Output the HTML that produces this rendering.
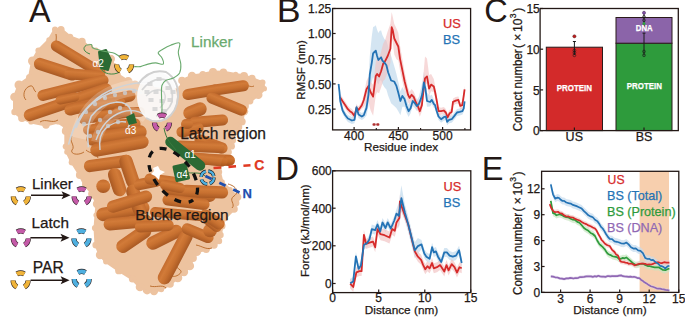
<!DOCTYPE html>
<html><head><meta charset="utf-8"><style>
html,body{margin:0;padding:0;background:#fff;width:685px;height:317px;overflow:hidden}
svg{display:block;font-family:"Liberation Sans", sans-serif}
.t{stroke:currentColor}
</style></head><body>
<svg width="685" height="317" viewBox="0 0 685 317">
<rect width="685" height="317" fill="#fff"/>
<polygon points="55.0,29.5 61.0,29.5 70.0,37.0 82.0,41.5 89.4,47.5 96.0,50.0 104.0,53.0 110.8,59.0 114.0,66.0 117.8,74.7 128.2,81.6 135.0,84.0 150.0,88.0 165.0,90.0 176.0,92.0 181.0,88.0 182.0,80.5 192.0,76.0 202.8,74.4 213.0,72.0 223.4,72.3 235.7,74.4 244.0,76.0 252.0,78.5 262.4,82.6 264.4,88.7 258.3,94.9 250.0,101.0 245.0,106.0 243.9,111.3 241.8,121.6 238.0,127.0 235.7,131.8 232.0,140.0 231.6,146.2 227.5,152.0 222.0,160.0 219.5,172.0 222.0,182.0 230.0,190.0 237.0,197.0 236.0,203.0 234.0,209.0 225.0,218.0 222.0,226.0 220.4,235.0 219.0,241.0 214.0,245.0 206.2,249.3 196.8,251.7 193.0,258.0 189.7,265.9 184.0,272.0 177.8,277.7 170.0,284.0 161.3,289.5 154.0,291.0 147.1,290.0 140.0,287.0 132.5,279.0 119.0,270.4 106.0,261.5 100.0,255.0 96.0,245.0 95.0,228.0 96.0,215.0 97.0,204.0 92.6,193.9 84.7,184.4 80.0,175.0 72.0,162.3 67.0,152.0 65.8,146.6 65.8,131.0 67.0,128.0 58.0,122.0 46.0,125.0 31.0,122.0 22.0,118.0 14.5,112.0 14.5,97.0 19.0,85.0 29.5,77.4 32.5,61.0 38.5,50.5 49.0,40.0" fill="#edc3a0" stroke="#edc3a0" stroke-width="3" stroke-linejoin="round"/>
<circle cx="55.0" cy="29.5" r="3.0" fill="#edc3a0"/>
<circle cx="61.0" cy="29.5" r="3.6" fill="#edc3a0"/>
<circle cx="70.0" cy="37.0" r="3.2" fill="#edc3a0"/>
<circle cx="82.0" cy="41.5" r="3.7" fill="#edc3a0"/>
<circle cx="89.4" cy="47.5" r="3.8" fill="#edc3a0"/>
<circle cx="96.0" cy="50.0" r="2.6" fill="#edc3a0"/>
<circle cx="104.0" cy="53.0" r="2.5" fill="#edc3a0"/>
<circle cx="110.8" cy="59.0" r="4.2" fill="#edc3a0"/>
<circle cx="114.0" cy="66.0" r="3.0" fill="#edc3a0"/>
<circle cx="117.8" cy="74.7" r="3.0" fill="#edc3a0"/>
<circle cx="128.2" cy="81.6" r="4.5" fill="#edc3a0"/>
<circle cx="135.0" cy="84.0" r="3.4" fill="#edc3a0"/>
<circle cx="150.0" cy="88.0" r="4.2" fill="#edc3a0"/>
<circle cx="165.0" cy="90.0" r="3.5" fill="#edc3a0"/>
<circle cx="176.0" cy="92.0" r="3.8" fill="#edc3a0"/>
<circle cx="181.0" cy="88.0" r="2.8" fill="#edc3a0"/>
<circle cx="182.0" cy="80.5" r="3.8" fill="#edc3a0"/>
<circle cx="192.0" cy="76.0" r="4.2" fill="#edc3a0"/>
<circle cx="202.8" cy="74.4" r="3.5" fill="#edc3a0"/>
<circle cx="213.0" cy="72.0" r="4.0" fill="#edc3a0"/>
<circle cx="223.4" cy="72.3" r="3.8" fill="#edc3a0"/>
<circle cx="235.7" cy="74.4" r="2.6" fill="#edc3a0"/>
<circle cx="244.0" cy="76.0" r="4.0" fill="#edc3a0"/>
<circle cx="252.0" cy="78.5" r="3.7" fill="#edc3a0"/>
<circle cx="262.4" cy="82.6" r="3.1" fill="#edc3a0"/>
<circle cx="264.4" cy="88.7" r="2.6" fill="#edc3a0"/>
<circle cx="258.3" cy="94.9" r="4.2" fill="#edc3a0"/>
<circle cx="250.0" cy="101.0" r="3.4" fill="#edc3a0"/>
<circle cx="245.0" cy="106.0" r="3.9" fill="#edc3a0"/>
<circle cx="243.9" cy="111.3" r="4.3" fill="#edc3a0"/>
<circle cx="241.8" cy="121.6" r="3.9" fill="#edc3a0"/>
<circle cx="238.0" cy="127.0" r="4.3" fill="#edc3a0"/>
<circle cx="235.7" cy="131.8" r="3.3" fill="#edc3a0"/>
<circle cx="232.0" cy="140.0" r="4.1" fill="#edc3a0"/>
<circle cx="231.6" cy="146.2" r="3.4" fill="#edc3a0"/>
<circle cx="227.5" cy="152.0" r="4.4" fill="#edc3a0"/>
<circle cx="222.0" cy="160.0" r="4.3" fill="#edc3a0"/>
<circle cx="219.5" cy="172.0" r="2.7" fill="#edc3a0"/>
<circle cx="222.0" cy="182.0" r="2.8" fill="#edc3a0"/>
<circle cx="230.0" cy="190.0" r="2.9" fill="#edc3a0"/>
<circle cx="237.0" cy="197.0" r="4.4" fill="#edc3a0"/>
<circle cx="236.0" cy="203.0" r="3.4" fill="#edc3a0"/>
<circle cx="234.0" cy="209.0" r="3.8" fill="#edc3a0"/>
<circle cx="225.0" cy="218.0" r="3.1" fill="#edc3a0"/>
<circle cx="222.0" cy="226.0" r="3.5" fill="#edc3a0"/>
<circle cx="220.4" cy="235.0" r="3.3" fill="#edc3a0"/>
<circle cx="219.0" cy="241.0" r="3.2" fill="#edc3a0"/>
<circle cx="214.0" cy="245.0" r="3.7" fill="#edc3a0"/>
<circle cx="206.2" cy="249.3" r="3.7" fill="#edc3a0"/>
<circle cx="196.8" cy="251.7" r="4.3" fill="#edc3a0"/>
<circle cx="193.0" cy="258.0" r="3.9" fill="#edc3a0"/>
<circle cx="189.7" cy="265.9" r="4.4" fill="#edc3a0"/>
<circle cx="184.0" cy="272.0" r="4.2" fill="#edc3a0"/>
<circle cx="177.8" cy="277.7" r="4.5" fill="#edc3a0"/>
<circle cx="170.0" cy="284.0" r="3.8" fill="#edc3a0"/>
<circle cx="161.3" cy="289.5" r="2.8" fill="#edc3a0"/>
<circle cx="154.0" cy="291.0" r="4.2" fill="#edc3a0"/>
<circle cx="147.1" cy="290.0" r="4.4" fill="#edc3a0"/>
<circle cx="140.0" cy="287.0" r="4.3" fill="#edc3a0"/>
<circle cx="132.5" cy="279.0" r="3.6" fill="#edc3a0"/>
<circle cx="119.0" cy="270.4" r="3.9" fill="#edc3a0"/>
<circle cx="106.0" cy="261.5" r="2.9" fill="#edc3a0"/>
<circle cx="100.0" cy="255.0" r="4.2" fill="#edc3a0"/>
<circle cx="96.0" cy="245.0" r="3.6" fill="#edc3a0"/>
<circle cx="95.0" cy="228.0" r="3.1" fill="#edc3a0"/>
<circle cx="96.0" cy="215.0" r="2.6" fill="#edc3a0"/>
<circle cx="97.0" cy="204.0" r="4.2" fill="#edc3a0"/>
<circle cx="92.6" cy="193.9" r="4.5" fill="#edc3a0"/>
<circle cx="84.7" cy="184.4" r="2.7" fill="#edc3a0"/>
<circle cx="80.0" cy="175.0" r="4.1" fill="#edc3a0"/>
<circle cx="72.0" cy="162.3" r="3.3" fill="#edc3a0"/>
<circle cx="67.0" cy="152.0" r="2.8" fill="#edc3a0"/>
<circle cx="65.8" cy="146.6" r="3.1" fill="#edc3a0"/>
<circle cx="65.8" cy="131.0" r="4.0" fill="#edc3a0"/>
<circle cx="67.0" cy="128.0" r="4.2" fill="#edc3a0"/>
<circle cx="58.0" cy="122.0" r="2.6" fill="#edc3a0"/>
<circle cx="46.0" cy="125.0" r="3.7" fill="#edc3a0"/>
<circle cx="31.0" cy="122.0" r="2.6" fill="#edc3a0"/>
<circle cx="22.0" cy="118.0" r="3.9" fill="#edc3a0"/>
<circle cx="14.5" cy="112.0" r="3.2" fill="#edc3a0"/>
<circle cx="14.5" cy="97.0" r="4.3" fill="#edc3a0"/>
<circle cx="19.0" cy="85.0" r="4.5" fill="#edc3a0"/>
<circle cx="29.5" cy="77.4" r="3.5" fill="#edc3a0"/>
<circle cx="32.5" cy="61.0" r="4.5" fill="#edc3a0"/>
<circle cx="38.5" cy="50.5" r="3.1" fill="#edc3a0"/>
<circle cx="49.0" cy="40.0" r="2.7" fill="#edc3a0"/>
<path d="M56,34 C57,38 55,42 57,46" fill="none" stroke="#b4621f" stroke-width="0.9"/>
<path d="M26,100 C22,96 24,88 30,86 C34,85 33,90 36,92" fill="none" stroke="#b4621f" stroke-width="0.9"/>
<path d="M72,136 C68,140 76,146 72,150 C70,154 78,156 84,152" fill="none" stroke="#b4621f" stroke-width="0.9"/>
<path d="M170,256 C168,262 176,266 180,270 C184,272 176,278 172,276" fill="none" stroke="#b4621f" stroke-width="0.9"/>
<path d="M228,184 C236,186 240,192 234,196 C228,200 236,204 232,208" fill="none" stroke="#b4621f" stroke-width="0.9"/>
<path d="M150,286 C156,288 162,284 166,288" fill="none" stroke="#b4621f" stroke-width="0.9"/>
<path d="M86,150 C90,154 96,152 98,158" fill="none" stroke="#b4621f" stroke-width="0.9"/>
<path d="M196,245 C202,246 206,250 212,248" fill="none" stroke="#b4621f" stroke-width="0.9"/>
<path d="M244,86 C248,84 250,88 254,86" fill="none" stroke="#b4621f" stroke-width="0.9"/>
<path d="M40,122 C46,118 52,124 58,120" fill="none" stroke="#b4621f" stroke-width="0.9"/>
<linearGradient id="cg1" gradientUnits="userSpaceOnUse" x1="81.1" y1="54.5" x2="75.3" y2="64.0"><stop offset="0" stop-color="#c06526"/><stop offset="0.3" stop-color="#d07632"/><stop offset="0.6" stop-color="#c46a28"/><stop offset="1" stop-color="#a3511b"/></linearGradient>
<line x1="56.4" y1="46" x2="100" y2="72.5" stroke="url(#cg1)" stroke-width="11.200000000000001" stroke-linecap="round"/>
<linearGradient id="cg2" gradientUnits="userSpaceOnUse" x1="57.9" y1="63.3" x2="54.1" y2="75.1"><stop offset="0" stop-color="#c06526"/><stop offset="0.3" stop-color="#d07632"/><stop offset="0.6" stop-color="#c46a28"/><stop offset="1" stop-color="#a3511b"/></linearGradient>
<line x1="40" y1="64" x2="72" y2="74.4" stroke="url(#cg2)" stroke-width="12.32" stroke-linecap="round"/>
<linearGradient id="cg3" gradientUnits="userSpaceOnUse" x1="84.9" y1="69.4" x2="84.1" y2="80.6"><stop offset="0" stop-color="#c06526"/><stop offset="0.3" stop-color="#d07632"/><stop offset="0.6" stop-color="#c46a28"/><stop offset="1" stop-color="#a3511b"/></linearGradient>
<line x1="70" y1="74" x2="99" y2="76" stroke="url(#cg3)" stroke-width="11.200000000000001" stroke-linecap="round"/>
<linearGradient id="cg4" gradientUnits="userSpaceOnUse" x1="71.6" y1="82.5" x2="74.4" y2="93.3"><stop offset="0" stop-color="#c06526"/><stop offset="0.3" stop-color="#d07632"/><stop offset="0.6" stop-color="#c46a28"/><stop offset="1" stop-color="#a3511b"/></linearGradient>
<line x1="43" y1="95.4" x2="103" y2="80.4" stroke="url(#cg4)" stroke-width="11.200000000000001" stroke-linecap="round"/>
<linearGradient id="cg5" gradientUnits="userSpaceOnUse" x1="66.0" y1="96.4" x2="70.0" y2="108.0"><stop offset="0" stop-color="#c06526"/><stop offset="0.3" stop-color="#d07632"/><stop offset="0.6" stop-color="#c46a28"/><stop offset="1" stop-color="#a3511b"/></linearGradient>
<line x1="30" y1="115" x2="106" y2="89.4" stroke="url(#cg5)" stroke-width="12.32" stroke-linecap="round"/>
<linearGradient id="cg6" gradientUnits="userSpaceOnUse" x1="83.6" y1="100.6" x2="86.4" y2="111.4"><stop offset="0" stop-color="#c06526"/><stop offset="0.3" stop-color="#d07632"/><stop offset="0.6" stop-color="#c46a28"/><stop offset="1" stop-color="#a3511b"/></linearGradient>
<line x1="70" y1="110" x2="100" y2="102" stroke="url(#cg6)" stroke-width="11.200000000000001" stroke-linecap="round"/>
<linearGradient id="cg7" gradientUnits="userSpaceOnUse" x1="66.6" y1="94.1" x2="68.4" y2="102.9"><stop offset="0" stop-color="#c06526"/><stop offset="0.3" stop-color="#d07632"/><stop offset="0.6" stop-color="#c46a28"/><stop offset="1" stop-color="#a3511b"/></linearGradient>
<line x1="60" y1="100" x2="75" y2="97" stroke="url(#cg7)" stroke-width="8.96" stroke-linecap="round"/>
<linearGradient id="cg8" gradientUnits="userSpaceOnUse" x1="103.6" y1="108.9" x2="105.4" y2="121.1"><stop offset="0" stop-color="#c06526"/><stop offset="0.3" stop-color="#d07632"/><stop offset="0.6" stop-color="#c46a28"/><stop offset="1" stop-color="#a3511b"/></linearGradient>
<line x1="84" y1="118" x2="125" y2="112" stroke="url(#cg8)" stroke-width="12.32" stroke-linecap="round"/>
<linearGradient id="cg9" gradientUnits="userSpaceOnUse" x1="117.2" y1="119.4" x2="117.8" y2="130.6"><stop offset="0" stop-color="#c06526"/><stop offset="0.3" stop-color="#d07632"/><stop offset="0.6" stop-color="#c46a28"/><stop offset="1" stop-color="#a3511b"/></linearGradient>
<line x1="100" y1="126" x2="135" y2="124" stroke="url(#cg9)" stroke-width="11.200000000000001" stroke-linecap="round"/>
<linearGradient id="cg10" gradientUnits="userSpaceOnUse" x1="118.9" y1="92.5" x2="121.1" y2="103.5"><stop offset="0" stop-color="#c06526"/><stop offset="0.3" stop-color="#d07632"/><stop offset="0.6" stop-color="#c46a28"/><stop offset="1" stop-color="#a3511b"/></linearGradient>
<line x1="110" y1="100" x2="130" y2="96" stroke="url(#cg10)" stroke-width="11.200000000000001" stroke-linecap="round"/>
<linearGradient id="cg11" gradientUnits="userSpaceOnUse" x1="98.3" y1="99.9" x2="99.7" y2="111.1"><stop offset="0" stop-color="#c06526"/><stop offset="0.3" stop-color="#d07632"/><stop offset="0.6" stop-color="#c46a28"/><stop offset="1" stop-color="#a3511b"/></linearGradient>
<line x1="78" y1="108" x2="120" y2="103" stroke="url(#cg11)" stroke-width="11.200000000000001" stroke-linecap="round"/>
<linearGradient id="cg12" gradientUnits="userSpaceOnUse" x1="129.0" y1="107.0" x2="129.0" y2="117.0"><stop offset="0" stop-color="#c06526"/><stop offset="0.3" stop-color="#d07632"/><stop offset="0.6" stop-color="#c46a28"/><stop offset="1" stop-color="#a3511b"/></linearGradient>
<line x1="118" y1="112" x2="140" y2="112" stroke="url(#cg12)" stroke-width="10.080000000000002" stroke-linecap="round"/>
<linearGradient id="cg13" gradientUnits="userSpaceOnUse" x1="93.2" y1="124.0" x2="94.8" y2="134.0"><stop offset="0" stop-color="#c06526"/><stop offset="0.3" stop-color="#d07632"/><stop offset="0.6" stop-color="#c46a28"/><stop offset="1" stop-color="#a3511b"/></linearGradient>
<line x1="88" y1="130" x2="100" y2="128" stroke="url(#cg13)" stroke-width="10.080000000000002" stroke-linecap="round"/>
<linearGradient id="cg14" gradientUnits="userSpaceOnUse" x1="115.5" y1="128.9" x2="117.5" y2="142.1"><stop offset="0" stop-color="#c06526"/><stop offset="0.3" stop-color="#d07632"/><stop offset="0.6" stop-color="#c46a28"/><stop offset="1" stop-color="#a3511b"/></linearGradient>
<line x1="93" y1="139" x2="140" y2="132" stroke="url(#cg14)" stroke-width="13.440000000000001" stroke-linecap="round"/>
<linearGradient id="cg15" gradientUnits="userSpaceOnUse" x1="118.3" y1="139.4" x2="120.7" y2="152.6"><stop offset="0" stop-color="#c06526"/><stop offset="0.3" stop-color="#d07632"/><stop offset="0.6" stop-color="#c46a28"/><stop offset="1" stop-color="#a3511b"/></linearGradient>
<line x1="97" y1="150" x2="142" y2="142" stroke="url(#cg15)" stroke-width="13.440000000000001" stroke-linecap="round"/>
<linearGradient id="cg16" gradientUnits="userSpaceOnUse" x1="107.2" y1="157.4" x2="108.8" y2="169.6"><stop offset="0" stop-color="#c06526"/><stop offset="0.3" stop-color="#d07632"/><stop offset="0.6" stop-color="#c46a28"/><stop offset="1" stop-color="#a3511b"/></linearGradient>
<line x1="90" y1="166" x2="126" y2="161" stroke="url(#cg16)" stroke-width="12.32" stroke-linecap="round"/>
<linearGradient id="cg17" gradientUnits="userSpaceOnUse" x1="135.8" y1="169.2" x2="123.0" y2="173.5"><stop offset="0" stop-color="#c06526"/><stop offset="0.3" stop-color="#d07632"/><stop offset="0.6" stop-color="#c46a28"/><stop offset="1" stop-color="#a3511b"/></linearGradient>
<line x1="126" y1="161.4" x2="132.8" y2="181.3" stroke="url(#cg17)" stroke-width="13.440000000000001" stroke-linecap="round"/>
<linearGradient id="cg18" gradientUnits="userSpaceOnUse" x1="123.5" y1="180.0" x2="110.7" y2="184.3"><stop offset="0" stop-color="#c06526"/><stop offset="0.3" stop-color="#d07632"/><stop offset="0.6" stop-color="#c46a28"/><stop offset="1" stop-color="#a3511b"/></linearGradient>
<line x1="114.6" y1="174.7" x2="119.6" y2="189.6" stroke="url(#cg18)" stroke-width="13.440000000000001" stroke-linecap="round"/>
<linearGradient id="cg19" gradientUnits="userSpaceOnUse" x1="103.2" y1="179.6" x2="103.2" y2="193.0"><stop offset="0" stop-color="#c06526"/><stop offset="0.3" stop-color="#d07632"/><stop offset="0.6" stop-color="#c46a28"/><stop offset="1" stop-color="#a3511b"/></linearGradient>
<line x1="103" y1="186.3" x2="103.5" y2="186.3" stroke="url(#cg19)" stroke-width="13.440000000000001" stroke-linecap="round"/>
<linearGradient id="cg20" gradientUnits="userSpaceOnUse" x1="121.8" y1="204.5" x2="124.0" y2="217.7"><stop offset="0" stop-color="#c06526"/><stop offset="0.3" stop-color="#d07632"/><stop offset="0.6" stop-color="#c46a28"/><stop offset="1" stop-color="#a3511b"/></linearGradient>
<line x1="103" y1="214.4" x2="142.8" y2="207.8" stroke="url(#cg20)" stroke-width="13.440000000000001" stroke-linecap="round"/>
<linearGradient id="cg21" gradientUnits="userSpaceOnUse" x1="142.5" y1="198.0" x2="129.8" y2="202.6"><stop offset="0" stop-color="#c06526"/><stop offset="0.3" stop-color="#d07632"/><stop offset="0.6" stop-color="#c46a28"/><stop offset="1" stop-color="#a3511b"/></linearGradient>
<line x1="132.8" y1="191.2" x2="139.5" y2="209.4" stroke="url(#cg21)" stroke-width="13.440000000000001" stroke-linecap="round"/>
<linearGradient id="cg22" gradientUnits="userSpaceOnUse" x1="127.3" y1="216.5" x2="128.4" y2="228.8"><stop offset="0" stop-color="#c06526"/><stop offset="0.3" stop-color="#d07632"/><stop offset="0.6" stop-color="#c46a28"/><stop offset="1" stop-color="#a3511b"/></linearGradient>
<line x1="109.7" y1="224.3" x2="146" y2="221" stroke="url(#cg22)" stroke-width="12.32" stroke-linecap="round"/>
<linearGradient id="cg23" gradientUnits="userSpaceOnUse" x1="146.7" y1="177.5" x2="148.8" y2="188.4"><stop offset="0" stop-color="#c06526"/><stop offset="0.3" stop-color="#d07632"/><stop offset="0.6" stop-color="#c46a28"/><stop offset="1" stop-color="#a3511b"/></linearGradient>
<line x1="139.5" y1="184.6" x2="156" y2="181.3" stroke="url(#cg23)" stroke-width="11.200000000000001" stroke-linecap="round"/>
<linearGradient id="cg24" gradientUnits="userSpaceOnUse" x1="127.7" y1="195.7" x2="131.3" y2="207.5"><stop offset="0" stop-color="#c06526"/><stop offset="0.3" stop-color="#d07632"/><stop offset="0.6" stop-color="#c46a28"/><stop offset="1" stop-color="#a3511b"/></linearGradient>
<line x1="113" y1="206.6" x2="146" y2="196.6" stroke="url(#cg24)" stroke-width="12.32" stroke-linecap="round"/>
<linearGradient id="cg25" gradientUnits="userSpaceOnUse" x1="130.0" y1="233.3" x2="137.6" y2="244.4"><stop offset="0" stop-color="#c06526"/><stop offset="0.3" stop-color="#d07632"/><stop offset="0.6" stop-color="#c46a28"/><stop offset="1" stop-color="#a3511b"/></linearGradient>
<line x1="123" y1="246.3" x2="144.6" y2="231.4" stroke="url(#cg25)" stroke-width="13.440000000000001" stroke-linecap="round"/>
<linearGradient id="cg26" gradientUnits="userSpaceOnUse" x1="161.5" y1="231.2" x2="167.5" y2="243.2"><stop offset="0" stop-color="#c06526"/><stop offset="0.3" stop-color="#d07632"/><stop offset="0.6" stop-color="#c46a28"/><stop offset="1" stop-color="#a3511b"/></linearGradient>
<line x1="153" y1="243" x2="176" y2="231.4" stroke="url(#cg26)" stroke-width="13.440000000000001" stroke-linecap="round"/>
<linearGradient id="cg27" gradientUnits="userSpaceOnUse" x1="169.3" y1="253.9" x2="181.2" y2="260.2"><stop offset="0" stop-color="#c06526"/><stop offset="0.3" stop-color="#d07632"/><stop offset="0.6" stop-color="#c46a28"/><stop offset="1" stop-color="#a3511b"/></linearGradient>
<line x1="164.5" y1="277.7" x2="186" y2="236.4" stroke="url(#cg27)" stroke-width="13.440000000000001" stroke-linecap="round"/>
<linearGradient id="cg28" gradientUnits="userSpaceOnUse" x1="154.0" y1="220.6" x2="154.6" y2="231.7"><stop offset="0" stop-color="#c06526"/><stop offset="0.3" stop-color="#d07632"/><stop offset="0.6" stop-color="#c46a28"/><stop offset="1" stop-color="#a3511b"/></linearGradient>
<line x1="140.4" y1="227" x2="168.2" y2="225.3" stroke="url(#cg28)" stroke-width="11.200000000000001" stroke-linecap="round"/>
<linearGradient id="cg29" gradientUnits="userSpaceOnUse" x1="199.8" y1="228.0" x2="195.5" y2="238.3"><stop offset="0" stop-color="#c06526"/><stop offset="0.3" stop-color="#d07632"/><stop offset="0.6" stop-color="#c46a28"/><stop offset="1" stop-color="#a3511b"/></linearGradient>
<line x1="187.3" y1="228.8" x2="208" y2="237.5" stroke="url(#cg29)" stroke-width="11.200000000000001" stroke-linecap="round"/>
<linearGradient id="cg30" gradientUnits="userSpaceOnUse" x1="210.1" y1="223.8" x2="210.1" y2="237.2"><stop offset="0" stop-color="#c06526"/><stop offset="0.3" stop-color="#d07632"/><stop offset="0.6" stop-color="#c46a28"/><stop offset="1" stop-color="#a3511b"/></linearGradient>
<line x1="209.8" y1="230.5" x2="210.3" y2="230.5" stroke="url(#cg30)" stroke-width="13.440000000000001" stroke-linecap="round"/>
<linearGradient id="cg31" gradientUnits="userSpaceOnUse" x1="215.5" y1="219.6" x2="209.2" y2="227.4"><stop offset="0" stop-color="#c06526"/><stop offset="0.3" stop-color="#d07632"/><stop offset="0.6" stop-color="#c46a28"/><stop offset="1" stop-color="#a3511b"/></linearGradient>
<line x1="208" y1="220" x2="216.7" y2="227" stroke="url(#cg31)" stroke-width="10.080000000000002" stroke-linecap="round"/>
<linearGradient id="cg32" gradientUnits="userSpaceOnUse" x1="190.0" y1="186.3" x2="188.0" y2="198.4"><stop offset="0" stop-color="#c06526"/><stop offset="0.3" stop-color="#d07632"/><stop offset="0.6" stop-color="#c46a28"/><stop offset="1" stop-color="#a3511b"/></linearGradient>
<line x1="168.2" y1="188.9" x2="209.8" y2="195.8" stroke="url(#cg32)" stroke-width="12.32" stroke-linecap="round"/>
<linearGradient id="cg33" gradientUnits="userSpaceOnUse" x1="200.6" y1="86.7" x2="202.4" y2="97.8"><stop offset="0" stop-color="#c06526"/><stop offset="0.3" stop-color="#d07632"/><stop offset="0.6" stop-color="#c46a28"/><stop offset="1" stop-color="#a3511b"/></linearGradient>
<line x1="188" y1="94.5" x2="215" y2="90" stroke="url(#cg33)" stroke-width="11.200000000000001" stroke-linecap="round"/>
<linearGradient id="cg34" gradientUnits="userSpaceOnUse" x1="228.3" y1="82.4" x2="230.0" y2="93.4"><stop offset="0" stop-color="#c06526"/><stop offset="0.3" stop-color="#d07632"/><stop offset="0.6" stop-color="#c46a28"/><stop offset="1" stop-color="#a3511b"/></linearGradient>
<line x1="215" y1="90" x2="243.3" y2="85.8" stroke="url(#cg34)" stroke-width="11.200000000000001" stroke-linecap="round"/>
<linearGradient id="cg35" gradientUnits="userSpaceOnUse" x1="228.9" y1="98.9" x2="224.6" y2="109.2"><stop offset="0" stop-color="#c06526"/><stop offset="0.3" stop-color="#d07632"/><stop offset="0.6" stop-color="#c46a28"/><stop offset="1" stop-color="#a3511b"/></linearGradient>
<line x1="212" y1="98" x2="241.5" y2="110.1" stroke="url(#cg35)" stroke-width="11.200000000000001" stroke-linecap="round"/>
<linearGradient id="cg36" gradientUnits="userSpaceOnUse" x1="192.5" y1="104.8" x2="197.5" y2="117.2"><stop offset="0" stop-color="#c06526"/><stop offset="0.3" stop-color="#d07632"/><stop offset="0.6" stop-color="#c46a28"/><stop offset="1" stop-color="#a3511b"/></linearGradient>
<line x1="190" y1="113" x2="200" y2="109" stroke="url(#cg36)" stroke-width="13.440000000000001" stroke-linecap="round"/>
<linearGradient id="cg37" gradientUnits="userSpaceOnUse" x1="208.1" y1="115.6" x2="209.1" y2="126.7"><stop offset="0" stop-color="#c06526"/><stop offset="0.3" stop-color="#d07632"/><stop offset="0.6" stop-color="#c46a28"/><stop offset="1" stop-color="#a3511b"/></linearGradient>
<line x1="194.7" y1="122.3" x2="222.5" y2="120" stroke="url(#cg37)" stroke-width="11.200000000000001" stroke-linecap="round"/>
<linearGradient id="cg38" gradientUnits="userSpaceOnUse" x1="212.9" y1="138.7" x2="209.1" y2="149.3"><stop offset="0" stop-color="#c06526"/><stop offset="0.3" stop-color="#d07632"/><stop offset="0.6" stop-color="#c46a28"/><stop offset="1" stop-color="#a3511b"/></linearGradient>
<line x1="200" y1="140" x2="222" y2="148" stroke="url(#cg38)" stroke-width="11.200000000000001" stroke-linecap="round"/>
<linearGradient id="cg39" gradientUnits="userSpaceOnUse" x1="215.7" y1="141.7" x2="213.0" y2="151.4"><stop offset="0" stop-color="#c06526"/><stop offset="0.3" stop-color="#d07632"/><stop offset="0.6" stop-color="#c46a28"/><stop offset="1" stop-color="#a3511b"/></linearGradient>
<line x1="208" y1="144.8" x2="220.7" y2="148.3" stroke="url(#cg39)" stroke-width="10.080000000000002" stroke-linecap="round"/>
<linearGradient id="cg40" gradientUnits="userSpaceOnUse" x1="212.3" y1="154.0" x2="211.8" y2="165.1"><stop offset="0" stop-color="#c06526"/><stop offset="0.3" stop-color="#d07632"/><stop offset="0.6" stop-color="#c46a28"/><stop offset="1" stop-color="#a3511b"/></linearGradient>
<line x1="194.7" y1="158.7" x2="229.4" y2="160.4" stroke="url(#cg40)" stroke-width="11.200000000000001" stroke-linecap="round"/>
<linearGradient id="cg41" gradientUnits="userSpaceOnUse" x1="188.6" y1="124.6" x2="191.4" y2="135.4"><stop offset="0" stop-color="#c06526"/><stop offset="0.3" stop-color="#d07632"/><stop offset="0.6" stop-color="#c46a28"/><stop offset="1" stop-color="#a3511b"/></linearGradient>
<line x1="182" y1="132" x2="198" y2="128" stroke="url(#cg41)" stroke-width="11.200000000000001" stroke-linecap="round"/>
<linearGradient id="cg42" gradientUnits="userSpaceOnUse" x1="187.0" y1="119.0" x2="187.0" y2="129.0"><stop offset="0" stop-color="#c06526"/><stop offset="0.3" stop-color="#d07632"/><stop offset="0.6" stop-color="#c46a28"/><stop offset="1" stop-color="#a3511b"/></linearGradient>
<line x1="186" y1="124" x2="188" y2="124" stroke="url(#cg42)" stroke-width="10.080000000000002" stroke-linecap="round"/>
<linearGradient id="cg43" gradientUnits="userSpaceOnUse" x1="199.7" y1="141.2" x2="199.3" y2="152.3"><stop offset="0" stop-color="#c06526"/><stop offset="0.3" stop-color="#d07632"/><stop offset="0.6" stop-color="#c46a28"/><stop offset="1" stop-color="#a3511b"/></linearGradient>
<line x1="180" y1="146" x2="219" y2="147.5" stroke="url(#cg43)" stroke-width="11.200000000000001" stroke-linecap="round"/>
<linearGradient id="cg44" gradientUnits="userSpaceOnUse" x1="209.1" y1="153.9" x2="207.9" y2="165.1"><stop offset="0" stop-color="#c06526"/><stop offset="0.3" stop-color="#d07632"/><stop offset="0.6" stop-color="#c46a28"/><stop offset="1" stop-color="#a3511b"/></linearGradient>
<line x1="195" y1="158" x2="222" y2="161" stroke="url(#cg44)" stroke-width="11.200000000000001" stroke-linecap="round"/>
<linearGradient id="cg45" gradientUnits="userSpaceOnUse" x1="162.0" y1="174.9" x2="160.5" y2="186.1"><stop offset="0" stop-color="#c06526"/><stop offset="0.3" stop-color="#d07632"/><stop offset="0.6" stop-color="#c46a28"/><stop offset="1" stop-color="#a3511b"/></linearGradient>
<line x1="150" y1="179" x2="172.5" y2="182" stroke="url(#cg45)" stroke-width="11.200000000000001" stroke-linecap="round"/>
<linearGradient id="cg46" gradientUnits="userSpaceOnUse" x1="204.2" y1="185.5" x2="203.8" y2="197.9"><stop offset="0" stop-color="#c06526"/><stop offset="0.3" stop-color="#d07632"/><stop offset="0.6" stop-color="#c46a28"/><stop offset="1" stop-color="#a3511b"/></linearGradient>
<line x1="186" y1="191" x2="222" y2="192.4" stroke="url(#cg46)" stroke-width="12.32" stroke-linecap="round"/>
<linearGradient id="cg47" gradientUnits="userSpaceOnUse" x1="186.7" y1="196.6" x2="185.3" y2="207.8"><stop offset="0" stop-color="#c06526"/><stop offset="0.3" stop-color="#d07632"/><stop offset="0.6" stop-color="#c46a28"/><stop offset="1" stop-color="#a3511b"/></linearGradient>
<line x1="168" y1="200" x2="204" y2="204.4" stroke="url(#cg47)" stroke-width="11.200000000000001" stroke-linecap="round"/>
<linearGradient id="cg48" gradientUnits="userSpaceOnUse" x1="215.3" y1="214.8" x2="209.1" y2="224.2"><stop offset="0" stop-color="#c06526"/><stop offset="0.3" stop-color="#d07632"/><stop offset="0.6" stop-color="#c46a28"/><stop offset="1" stop-color="#a3511b"/></linearGradient>
<line x1="205.4" y1="215" x2="219" y2="224" stroke="url(#cg48)" stroke-width="11.200000000000001" stroke-linecap="round"/>
<linearGradient id="cg49" gradientUnits="userSpaceOnUse" x1="173.5" y1="181.6" x2="171.5" y2="191.4"><stop offset="0" stop-color="#c06526"/><stop offset="0.3" stop-color="#d07632"/><stop offset="0.6" stop-color="#c46a28"/><stop offset="1" stop-color="#a3511b"/></linearGradient>
<line x1="165" y1="185" x2="180" y2="188" stroke="url(#cg49)" stroke-width="10.080000000000002" stroke-linecap="round"/>
<linearGradient id="cg50" gradientUnits="userSpaceOnUse" x1="177.9" y1="209.0" x2="177.1" y2="219.0"><stop offset="0" stop-color="#c06526"/><stop offset="0.3" stop-color="#d07632"/><stop offset="0.6" stop-color="#c46a28"/><stop offset="1" stop-color="#a3511b"/></linearGradient>
<line x1="155" y1="212" x2="200" y2="216" stroke="url(#cg50)" stroke-width="10.080000000000002" stroke-linecap="round"/>
<polygon points="55.0,29.5 61.0,29.5 70.0,37.0 82.0,41.5 89.4,47.5 96.0,50.0 104.0,53.0 110.8,59.0 114.0,66.0 117.8,74.7 128.2,81.6 135.0,84.0 150.0,88.0 165.0,90.0 176.0,92.0 181.0,88.0 182.0,80.5 192.0,76.0 202.8,74.4 213.0,72.0 223.4,72.3 235.7,74.4 244.0,76.0 252.0,78.5 262.4,82.6 264.4,88.7 258.3,94.9 250.0,101.0 245.0,106.0 243.9,111.3 241.8,121.6 238.0,127.0 235.7,131.8 232.0,140.0 231.6,146.2 227.5,152.0 222.0,160.0 219.5,172.0 222.0,182.0 230.0,190.0 237.0,197.0 236.0,203.0 234.0,209.0 225.0,218.0 222.0,226.0 220.4,235.0 219.0,241.0 214.0,245.0 206.2,249.3 196.8,251.7 193.0,258.0 189.7,265.9 184.0,272.0 177.8,277.7 170.0,284.0 161.3,289.5 154.0,291.0 147.1,290.0 140.0,287.0 132.5,279.0 119.0,270.4 106.0,261.5 100.0,255.0 96.0,245.0 95.0,228.0 96.0,215.0 97.0,204.0 92.6,193.9 84.7,184.4 80.0,175.0 72.0,162.3 67.0,152.0 65.8,146.6 65.8,131.0 67.0,128.0 58.0,122.0 46.0,125.0 31.0,122.0 22.0,118.0 14.5,112.0 14.5,97.0 19.0,85.0 29.5,77.4 32.5,61.0 38.5,50.5 49.0,40.0" fill="#edc3a0" opacity="0.07"/>
<path d="M78,138 Q86,104 116,92 Q134,86 150,86" fill="none" stroke="#ffffff" stroke-width="16" opacity="0.22"/>
<path d="M96,142 Q102,118 122,112 Q136,110 146,118" fill="none" stroke="#ffffff" stroke-width="10" opacity="0.18"/>
<path d="M68.5,144.6 Q76,115 94,102 Q110,90 128,89 Q137,89 142,93.5" fill="none" stroke="#cfd4d9" stroke-width="1.6"/>
<path d="M88.4,147.4 Q86,128 91.2,116.2 Q100,104 116.7,102 Q128,102 131,110.5 Q133,120 128,127.6" fill="none" stroke="#cfd4d9" stroke-width="1.6"/>
<path d="M76,128 Q88,98 116,88 Q134,82 150,82" fill="none" stroke="#cfd4d9" stroke-width="1.5"/>
<path d="M96,140 Q104,118 122,112 Q136,108 146,116" fill="none" stroke="#cfd4d9" stroke-width="1.4"/>
<path d="M100,150 Q98,135 106,128 Q116,120 126,122" fill="none" stroke="#cfd4d9" stroke-width="1.4"/>
<circle cx="86" cy="112" r="2.2" fill="#c9ced3" opacity="0.8"/>
<circle cx="95" cy="104" r="2.2" fill="#c9ced3" opacity="0.8"/>
<circle cx="105" cy="98" r="2.2" fill="#c9ced3" opacity="0.8"/>
<circle cx="115" cy="95" r="2.2" fill="#c9ced3" opacity="0.8"/>
<circle cx="125" cy="93" r="2.2" fill="#c9ced3" opacity="0.8"/>
<circle cx="134" cy="91" r="2.2" fill="#c9ced3" opacity="0.8"/>
<circle cx="100" cy="120" r="2.2" fill="#c9ced3" opacity="0.8"/>
<circle cx="110" cy="112" r="2.2" fill="#c9ced3" opacity="0.8"/>
<circle cx="120" cy="108" r="2.2" fill="#c9ced3" opacity="0.8"/>
<circle cx="98" cy="132" r="2.2" fill="#c9ced3" opacity="0.8"/>
<circle cx="108" cy="126" r="2.2" fill="#c9ced3" opacity="0.8"/>
<circle cx="118" cy="122" r="2.2" fill="#c9ced3" opacity="0.8"/>
<circle cx="84" cy="124" r="2.2" fill="#c9ced3" opacity="0.8"/>
<circle cx="90" cy="136" r="2.2" fill="#c9ced3" opacity="0.8"/>
<ellipse cx="157" cy="97" rx="20" ry="25" fill="#fbfbfb" opacity="0.92"/>
<path d="M138,84 Q150,68 166,72 Q179,80 178,97 Q177,112 166,119 Q155,124 146,118" fill="none" stroke="#d0d0d0" stroke-width="2"/>
<path d="M142,90 Q153,76 166,80 Q174,88 172,102 Q168,113 156,116" fill="none" stroke="#d6d6d6" stroke-width="1.8"/>
<path d="M146,96 Q156,86 164,92 Q168,100 160,108" fill="none" stroke="#dadada" stroke-width="1.5"/>
<rect x="147.5" y="82" width="5" height="4" fill="#d4d4d4" opacity="0.85"/>
<rect x="156.5" y="77" width="5" height="4" fill="#d4d4d4" opacity="0.85"/>
<rect x="165.5" y="86" width="5" height="4" fill="#d4d4d4" opacity="0.85"/>
<rect x="159.5" y="99" width="5" height="4" fill="#d4d4d4" opacity="0.85"/>
<rect x="148.5" y="98" width="5" height="4" fill="#d4d4d4" opacity="0.85"/>
<rect x="153.5" y="90" width="5" height="4" fill="#d4d4d4" opacity="0.85"/>
<rect x="167.5" y="98" width="5" height="4" fill="#d4d4d4" opacity="0.85"/>
<rect x="144.5" y="90" width="5" height="4" fill="#d4d4d4" opacity="0.85"/>
<rect x="152.5" y="107" width="5" height="4" fill="#d4d4d4" opacity="0.85"/>
<rect x="161.5" y="109" width="5" height="4" fill="#d4d4d4" opacity="0.85"/>
<rect x="170.5" y="90" width="5" height="4" fill="#d4d4d4" opacity="0.85"/>
<path d="M153,168 L158,166 L160,170 L165,172 L160,175 L159,180 L155,176 L151,174 L154,171 Z" fill="#fff"/>
<line x1="170.5" y1="142" x2="200" y2="165.5" stroke="#2b6a34" stroke-width="10.5" stroke-linecap="round"/>
<path d="M174,167 L185,164.5 L188.5,178 L177,180.5 Z" fill="#2b6a34" stroke="#2b6a34" stroke-width="3" stroke-linejoin="round"/>
<path d="M99,52 L106,50 L111,60 L108,70 L101,68 Z" fill="#2b6a34" stroke="#2b6a34" stroke-width="2" stroke-linejoin="round"/>
<path d="M126,117 L134,113 L137,123 L129,125 Z" fill="#2b6a34"/>
<path d="M86.3,45.2 C87.1,45.1 90.2,44.1 91.3,44.5 C92.3,44.9 91.3,46.8 92.6,47.7 C93.9,48.6 96.9,49.4 99.0,50.0 C101.1,50.6 102.9,51.0 105.2,51.5 C107.5,52.0 110.7,52.2 112.8,52.8 C114.9,53.4 116.5,54.5 117.8,55.3 C119.0,56.1 119.9,57.4 120.3,57.8" fill="none" stroke="#6aaa6e" stroke-width="1.1"/>
<path d="M134.2,66.6 C135.2,66.6 138.2,67.0 140.5,66.6 C142.8,66.2 145.5,64.7 148.0,64.1 C150.5,63.5 153.1,62.9 155.6,62.9 C158.1,62.9 162.1,64.9 163.2,64.1 C164.2,63.2 162.8,59.7 161.9,57.8 C161.1,55.9 157.9,54.3 158.1,52.8 C158.3,51.3 161.1,50.3 163.2,49.0 C165.3,47.7 168.0,46.2 170.7,45.2 C173.4,44.2 178.3,41.9 179.6,43.2 C180.9,44.5 178.1,49.3 178.3,52.8 C178.5,56.3 180.6,60.7 180.8,64.1 C181.0,67.4 180.8,70.6 179.6,72.9 C178.3,75.2 175.6,76.7 173.3,78.0 C171.0,79.3 167.6,79.2 165.7,80.5 C163.8,81.8 162.6,83.1 161.9,85.5 C161.2,87.9 161.5,91.2 161.5,95.0 C161.5,98.8 162.0,104.3 162.0,108.0 C162.0,111.7 161.6,115.5 161.5,117.0" fill="none" stroke="#6aaa6e" stroke-width="1.1"/>
<path d="M86.3,45.2 C82,48 84,52 90,54 M100,68 C104,74 112,76 120,72" fill="none" stroke="#3f8a45" stroke-width="1"/>
<path d="M164,128 C166,140 172,145 176,150 M182,170 C188,176 200,170 205,176" fill="none" stroke="#3a7a3e" stroke-width="1"/>
<path d="M120.35,58.00 A7.5,7.5 0 0 1 127.85,58.00" fill="none" stroke="#2a2020" stroke-width="5.2"/>
<path d="M120.35,58.00 A7.5,7.5 0 0 1 127.85,58.00" fill="none" stroke="#f0b43a" stroke-width="4"/>
<path d="M131.60,64.50 A7.5,7.5 0 0 1 127.85,71.00" fill="none" stroke="#2a2020" stroke-width="5.2"/>
<path d="M131.60,64.50 A7.5,7.5 0 0 1 127.85,71.00" fill="none" stroke="#f0b43a" stroke-width="4"/>
<path d="M120.35,71.00 A7.5,7.5 0 0 1 116.60,64.50" fill="none" stroke="#2a2020" stroke-width="5.2"/>
<path d="M120.35,71.00 A7.5,7.5 0 0 1 116.60,64.50" fill="none" stroke="#f0b43a" stroke-width="4"/>
<path d="M158.25,116.30 A7.5,7.5 0 0 1 165.75,116.30" fill="none" stroke="#2a2020" stroke-width="5.2"/>
<path d="M158.25,116.30 A7.5,7.5 0 0 1 165.75,116.30" fill="none" stroke="#c45aa8" stroke-width="4"/>
<path d="M169.50,122.80 A7.5,7.5 0 0 1 165.75,129.30" fill="none" stroke="#2a2020" stroke-width="5.2"/>
<path d="M169.50,122.80 A7.5,7.5 0 0 1 165.75,129.30" fill="none" stroke="#c45aa8" stroke-width="4"/>
<path d="M158.25,129.30 A7.5,7.5 0 0 1 154.50,122.80" fill="none" stroke="#2a2020" stroke-width="5.2"/>
<path d="M158.25,129.30 A7.5,7.5 0 0 1 154.50,122.80" fill="none" stroke="#c45aa8" stroke-width="4"/>
<circle cx="207.5" cy="177.5" r="6.4" fill="none" stroke="#1a1a1a" stroke-width="3.6" stroke-dasharray="7.5 2.6"/>
<circle cx="207.5" cy="177.5" r="6.4" fill="none" stroke="#4fb0e0" stroke-width="2.4" stroke-dasharray="7.5 2.6"/>
<ellipse cx="173.2" cy="175.4" rx="31.6" ry="18.1" transform="rotate(50.9 173.2 175.4)" fill="none" stroke="#111" stroke-width="3.3" stroke-dasharray="7 7.7" stroke-dashoffset="2"/>
<line x1="213.5" y1="168" x2="250.5" y2="165.2" stroke="#e03a22" stroke-width="2.6" stroke-dasharray="7.6 7.4"/>
<line x1="204" y1="175.3" x2="240" y2="192.8" stroke="#1f4fae" stroke-width="2.8" stroke-dasharray="7 8.5" stroke-dashoffset="-1.5"/>
<text x="254.3" y="169.9" font-size="14" fill="#e03a22" text-anchor="start" font-weight="bold" stroke="#e03a22" stroke-width="0.25" >C</text>
<text x="242.4" y="198.3" font-size="13" fill="#1f4fae" text-anchor="start" font-weight="bold" stroke="#1f4fae" stroke-width="0.25" >N</text>
<text x="92.5" y="66.5" font-size="10" fill="#fff" text-anchor="start" font-weight="normal" >α2</text>
<text x="125" y="134" font-size="10" fill="#fff" text-anchor="start" font-weight="normal" >α3</text>
<text x="184.5" y="157.7" font-size="10" fill="#fff" text-anchor="start" font-weight="normal" >α1</text>
<text x="176.5" y="177.5" font-size="10" fill="#fff" text-anchor="start" font-weight="normal" >α4</text>
<text x="191" y="46.8" font-size="15.3" fill="#6aaa6e" text-anchor="start" font-weight="normal" stroke="#6aaa6e" stroke-width="0.25" >Linker</text>
<text x="180.2" y="138.8" font-size="15.6" fill="#231815" text-anchor="start" font-weight="normal" stroke="#231815" stroke-width="0.25" >Latch region</text>
<text x="135.3" y="220.3" font-size="15.4" fill="#231815" text-anchor="start" font-weight="normal" stroke="#231815" stroke-width="0.25" >Buckle region</text>
<path d="M17.05,190.00 A7.5,7.5 0 0 1 24.55,190.00" fill="none" stroke="#2a2020" stroke-width="5.2"/>
<path d="M17.05,190.00 A7.5,7.5 0 0 1 24.55,190.00" fill="none" stroke="#f0b43a" stroke-width="4"/>
<path d="M28.30,196.50 A7.5,7.5 0 0 1 24.55,203.00" fill="none" stroke="#2a2020" stroke-width="5.2"/>
<path d="M28.30,196.50 A7.5,7.5 0 0 1 24.55,203.00" fill="none" stroke="#f0b43a" stroke-width="4"/>
<path d="M17.05,203.00 A7.5,7.5 0 0 1 13.30,196.50" fill="none" stroke="#2a2020" stroke-width="5.2"/>
<path d="M17.05,203.00 A7.5,7.5 0 0 1 13.30,196.50" fill="none" stroke="#f0b43a" stroke-width="4"/>
<path d="M77.85,190.00 A7.5,7.5 0 0 1 85.35,190.00" fill="none" stroke="#2a2020" stroke-width="5.2"/>
<path d="M77.85,190.00 A7.5,7.5 0 0 1 85.35,190.00" fill="none" stroke="#c45aa8" stroke-width="4"/>
<path d="M89.10,196.50 A7.5,7.5 0 0 1 85.35,203.00" fill="none" stroke="#2a2020" stroke-width="5.2"/>
<path d="M89.10,196.50 A7.5,7.5 0 0 1 85.35,203.00" fill="none" stroke="#c45aa8" stroke-width="4"/>
<path d="M77.85,203.00 A7.5,7.5 0 0 1 74.10,196.50" fill="none" stroke="#2a2020" stroke-width="5.2"/>
<path d="M77.85,203.00 A7.5,7.5 0 0 1 74.10,196.50" fill="none" stroke="#c45aa8" stroke-width="4"/>
<line x1="31" y1="195.3" x2="64.5" y2="195.3" stroke="#231815" stroke-width="1.5"/>
<path d="M61.5,191.3 L70.5,195.3 L61.5,199.3 L63.5,195.3 Z" fill="#231815"/>
<path d="M17.05,232.00 A7.5,7.5 0 0 1 24.55,232.00" fill="none" stroke="#2a2020" stroke-width="5.2"/>
<path d="M17.05,232.00 A7.5,7.5 0 0 1 24.55,232.00" fill="none" stroke="#c45aa8" stroke-width="4"/>
<path d="M28.30,238.50 A7.5,7.5 0 0 1 24.55,245.00" fill="none" stroke="#2a2020" stroke-width="5.2"/>
<path d="M28.30,238.50 A7.5,7.5 0 0 1 24.55,245.00" fill="none" stroke="#c45aa8" stroke-width="4"/>
<path d="M17.05,245.00 A7.5,7.5 0 0 1 13.30,238.50" fill="none" stroke="#2a2020" stroke-width="5.2"/>
<path d="M17.05,245.00 A7.5,7.5 0 0 1 13.30,238.50" fill="none" stroke="#c45aa8" stroke-width="4"/>
<path d="M77.65,232.00 A7.5,7.5 0 0 1 85.15,232.00" fill="none" stroke="#2a2020" stroke-width="5.2"/>
<path d="M77.65,232.00 A7.5,7.5 0 0 1 85.15,232.00" fill="none" stroke="#4fb0e0" stroke-width="4"/>
<path d="M88.90,238.50 A7.5,7.5 0 0 1 85.15,245.00" fill="none" stroke="#2a2020" stroke-width="5.2"/>
<path d="M88.90,238.50 A7.5,7.5 0 0 1 85.15,245.00" fill="none" stroke="#4fb0e0" stroke-width="4"/>
<path d="M77.65,245.00 A7.5,7.5 0 0 1 73.90,238.50" fill="none" stroke="#2a2020" stroke-width="5.2"/>
<path d="M77.65,245.00 A7.5,7.5 0 0 1 73.90,238.50" fill="none" stroke="#4fb0e0" stroke-width="4"/>
<line x1="30.4" y1="237.7" x2="63.5" y2="237.7" stroke="#231815" stroke-width="1.5"/>
<path d="M60.5,233.7 L69.5,237.7 L60.5,241.7 L62.5,237.7 Z" fill="#231815"/>
<path d="M16.85,274.00 A7.5,7.5 0 0 1 24.35,274.00" fill="none" stroke="#2a2020" stroke-width="5.2"/>
<path d="M16.85,274.00 A7.5,7.5 0 0 1 24.35,274.00" fill="none" stroke="#f0b43a" stroke-width="4"/>
<path d="M28.10,280.50 A7.5,7.5 0 0 1 24.35,287.00" fill="none" stroke="#2a2020" stroke-width="5.2"/>
<path d="M28.10,280.50 A7.5,7.5 0 0 1 24.35,287.00" fill="none" stroke="#f0b43a" stroke-width="4"/>
<path d="M16.85,287.00 A7.5,7.5 0 0 1 13.10,280.50" fill="none" stroke="#2a2020" stroke-width="5.2"/>
<path d="M16.85,287.00 A7.5,7.5 0 0 1 13.10,280.50" fill="none" stroke="#f0b43a" stroke-width="4"/>
<path d="M77.95,272.50 A7.5,7.5 0 0 1 85.45,272.50" fill="none" stroke="#2a2020" stroke-width="5.2"/>
<path d="M77.95,272.50 A7.5,7.5 0 0 1 85.45,272.50" fill="none" stroke="#4fb0e0" stroke-width="4"/>
<path d="M89.20,279.00 A7.5,7.5 0 0 1 85.45,285.50" fill="none" stroke="#2a2020" stroke-width="5.2"/>
<path d="M89.20,279.00 A7.5,7.5 0 0 1 85.45,285.50" fill="none" stroke="#4fb0e0" stroke-width="4"/>
<path d="M77.95,285.50 A7.5,7.5 0 0 1 74.20,279.00" fill="none" stroke="#2a2020" stroke-width="5.2"/>
<path d="M77.95,285.50 A7.5,7.5 0 0 1 74.20,279.00" fill="none" stroke="#4fb0e0" stroke-width="4"/>
<line x1="30.6" y1="280.3" x2="63.599999999999994" y2="280.3" stroke="#231815" stroke-width="1.5"/>
<path d="M60.599999999999994,276.3 L69.6,280.3 L60.599999999999994,284.3 L62.599999999999994,280.3 Z" fill="#231815"/>
<text x="32" y="188.9" font-size="15" fill="#231815" text-anchor="start" font-weight="normal" stroke="#231815" stroke-width="0.25" >Linker</text>
<text x="31.5" y="227.7" font-size="15.3" fill="#231815" text-anchor="start" font-weight="normal" stroke="#231815" stroke-width="0.25" >Latch</text>
<text x="32.8" y="272.8" font-size="15.6" fill="#231815" text-anchor="start" font-weight="normal" stroke="#231815" stroke-width="0.25" >PAR</text>
<text x="28.9" y="21.9" font-size="32.5" fill="#231815" text-anchor="start" font-weight="normal" >A</text>
<polygon points="338.6,80.5 339.5,88.5 340.3,97.8 342.6,107.0 345.3,111.7 347.9,115.0 350.0,116.0 351.9,117.0 354.5,116.3 356.5,103.7 358.5,111.0 361.8,113.0 363.8,111.7 366.5,99.1 368.5,80.7 369.8,55.7 371.8,36.3 373.1,27.0 374.4,26.6 375.8,25.2 377.1,29.7 378.4,33.0 379.7,30.8 381.1,30.4 382.4,35.0 384.4,39.0 386.4,40.8 388.1,46.2 391.1,55.8 394.2,66.1 396.3,73.4 398.3,81.8 400.4,91.2 402.4,87.1 404.5,91.1 406.5,98.9 408.6,104.7 410.6,102.2 412.7,95.0 414.7,97.0 416.8,100.1 418.8,96.9 420.9,88.6 422.3,82.0 423.9,71.9 425.4,79.2 427.0,92.7 430.1,95.7 431.8,94.8 433.8,99.6 435.1,101.4 436.5,107.0 438.5,113.0 441.1,115.7 443.8,113.7 445.8,113.0 447.1,118.3 449.1,116.3 451.7,115.7 454.4,112.4 457.0,109.0 459.7,108.4 462.3,107.7 463.7,105.1 464.6,97.8 464.6,104.8 463.7,112.1 462.3,114.7 459.7,115.4 457.0,116.0 454.4,119.4 451.7,122.7 449.1,123.3 447.1,125.3 445.8,120.0 443.8,120.7 441.1,122.7 438.5,120.0 436.5,114.0 435.1,108.8 433.8,107.7 431.8,104.0 430.1,106.6 427.0,106.7 425.4,94.7 423.9,88.5 422.3,99.8 420.9,104.6 418.8,109.3 416.8,111.1 414.7,108.0 412.7,106.0 410.6,113.2 408.6,116.9 406.5,112.8 404.5,106.7 402.4,106.7 400.4,115.3 398.3,111.2 396.3,108.0 394.2,106.0 391.1,103.2 388.1,95.4 386.4,89.4 384.4,87.2 382.4,84.0 381.1,80.0 379.7,81.1 378.4,84.6 377.1,82.6 375.8,79.4 374.4,80.0 373.1,77.0 371.8,82.1 369.8,89.0 368.5,105.8 366.5,115.5 363.8,118.7 361.8,120.0 358.5,118.0 356.5,110.7 354.5,123.3 351.9,124.0 350.0,123.0 347.9,122.0 345.3,118.7 342.6,114.0 340.3,104.8 339.5,95.5 338.6,87.5" fill="#c6dcee" fill-opacity="0.75"/>
<polygon points="340.0,93.8 342.6,97.8 345.3,101.7 347.9,105.7 349.9,107.7 351.9,109.0 354.5,112.4 356.5,104.4 358.5,106.4 361.8,101.7 363.8,94.5 366.5,81.0 368.5,76.8 370.5,81.7 373.1,84.7 375.8,61.9 377.1,58.4 379.1,58.6 381.1,51.8 383.1,43.7 385.0,40.3 387.7,31.2 390.4,23.7 391.2,16.0 391.7,11.9 392.7,16.5 394.3,24.0 396.5,28.6 398.3,32.8 400.0,45.6 402.7,61.1 404.6,71.9 406.6,81.0 408.0,87.4 409.6,91.7 411.6,89.0 413.7,91.4 415.7,96.7 417.8,101.1 419.8,103.0 421.9,93.3 423.5,73.7 425.0,56.4 427.0,58.4 429.1,74.9 431.1,73.9 433.8,78.9 435.1,86.0 437.1,98.0 438.5,107.1 441.1,107.7 443.8,107.0 445.8,109.0 447.7,113.7 449.7,109.7 451.7,108.4 453.0,98.4 455.7,97.1 458.4,96.4 460.3,102.4 462.3,101.7 463.7,92.5 464.6,85.8 464.6,92.8 463.7,99.5 462.3,108.7 460.3,109.4 458.4,103.4 455.7,104.1 453.0,105.4 451.7,115.4 449.7,116.7 447.7,120.7 445.8,116.0 443.8,114.0 441.1,114.7 438.5,115.3 437.1,107.2 435.1,97.3 433.8,92.2 431.1,91.2 429.1,95.7 427.0,83.4 425.0,85.4 423.5,97.3 421.9,111.2 419.8,116.7 417.8,111.1 415.7,107.3 413.7,102.4 411.6,100.6 409.6,104.2 408.0,102.2 406.6,97.7 404.6,91.4 402.7,82.8 400.0,70.6 398.3,60.5 396.5,59.2 394.3,54.6 392.7,41.9 391.7,38.0 391.2,47.0 390.4,62.7 387.7,72.4 385.0,79.3 383.1,81.1 381.1,87.6 379.1,93.2 377.1,92.2 375.8,95.3 373.1,115.8 370.5,110.2 368.5,101.8 366.5,102.0 363.8,107.3 361.8,108.7 358.5,113.4 356.5,111.4 354.5,119.4 351.9,116.0 349.9,114.7 347.9,112.7 345.3,108.7 342.6,104.8 340.0,100.8" fill="#f2c0c0" fill-opacity="0.6"/>
<polyline points="340.0,97.3 342.6,101.3 345.3,105.2 347.9,109.2 349.9,111.2 351.9,112.5 354.5,115.9 356.5,107.9 358.5,109.9 361.8,105.2 363.8,100.0 366.5,89.3 368.5,86.0 370.5,92.0 373.1,96.6 375.8,75.9 377.1,73.9 379.1,76.5 381.1,71.2 383.1,63.9 385.0,61.3 387.7,56.0 390.4,48.7 391.2,35.0 391.7,27.2 392.7,30.0 394.3,38.5 396.5,43.0 398.3,46.5 400.0,58.6 402.7,71.9 404.6,81.2 406.6,89.0 408.0,94.6 409.6,97.9 411.6,94.8 413.7,96.9 415.7,102.0 417.8,106.1 419.8,111.2 421.9,105.1 423.5,90.7 425.0,78.4 427.0,76.4 429.1,88.7 431.1,84.6 433.8,86.5 435.1,92.0 437.1,102.6 438.5,111.2 441.1,111.2 443.8,110.5 445.8,112.5 447.7,117.2 449.7,113.2 451.7,111.9 453.0,101.9 455.7,100.6 458.4,99.9 460.3,105.9 462.3,105.2 463.7,96.0 464.6,89.3" fill="none" stroke="#d62a2a" stroke-width="1.8" stroke-linejoin="round"/>
<polyline points="338.6,84.0 339.5,92.0 340.3,101.3 342.6,110.5 345.3,115.2 347.9,118.5 350.0,119.5 351.9,120.5 354.5,119.8 356.5,107.2 358.5,114.5 361.8,116.5 363.8,115.2 366.5,107.9 368.5,94.6 369.8,74.5 371.8,62.6 373.1,53.3 374.4,52.0 375.8,50.7 377.1,56.0 378.4,60.0 379.7,58.6 381.1,57.3 382.4,60.6 384.4,62.6 386.4,65.2 388.1,72.3 391.1,80.5 394.2,81.5 396.3,85.6 398.3,92.8 400.4,101.0 402.4,95.9 404.5,98.9 406.5,106.1 408.6,111.2 410.6,108.2 412.7,101.0 414.7,103.0 416.8,106.1 418.8,104.1 420.9,98.9 422.3,93.8 423.9,82.5 425.4,88.7 427.0,101.0 430.1,102.0 431.8,99.9 433.8,103.9 435.1,105.2 436.5,110.5 438.5,116.5 441.1,119.2 443.8,117.2 445.8,116.5 447.1,121.8 449.1,119.8 451.7,119.2 454.4,115.9 457.0,112.5 459.7,111.9 462.3,111.2 463.7,108.6 464.6,101.3" fill="none" stroke="#2473b5" stroke-width="1.8" stroke-linejoin="round"/>
<rect x="372.5" y="123.3" width="3.2" height="2.4" rx="1" fill="#b03030"/><rect x="376.2" y="123.3" width="3.2" height="2.4" rx="1" fill="#b03030"/>
<rect x="332.6" y="8.5" width="138.0" height="121.4" fill="none" stroke="#231815" stroke-width="1.3"/>
<line x1="332.6" y1="8.5" x2="335.6" y2="8.5" stroke="#231815" stroke-width="1.2"/>
<text x="331.3" y="13.2" font-size="12" fill="#231815" text-anchor="end" font-weight="normal" stroke="#231815" stroke-width="0.25" >1.25</text>
<line x1="332.6" y1="33.5" x2="335.6" y2="33.5" stroke="#231815" stroke-width="1.2"/>
<text x="331.3" y="38.2" font-size="12" fill="#231815" text-anchor="end" font-weight="normal" stroke="#231815" stroke-width="0.25" >1.00</text>
<line x1="332.6" y1="58.9" x2="335.6" y2="58.9" stroke="#231815" stroke-width="1.2"/>
<text x="331.3" y="63.6" font-size="12" fill="#231815" text-anchor="end" font-weight="normal" stroke="#231815" stroke-width="0.25" >0.75</text>
<line x1="332.6" y1="83.9" x2="335.6" y2="83.9" stroke="#231815" stroke-width="1.2"/>
<text x="331.3" y="88.60000000000001" font-size="12" fill="#231815" text-anchor="end" font-weight="normal" stroke="#231815" stroke-width="0.25" >0.50</text>
<line x1="332.6" y1="109.1" x2="335.6" y2="109.1" stroke="#231815" stroke-width="1.2"/>
<text x="331.3" y="113.8" font-size="12" fill="#231815" text-anchor="end" font-weight="normal" stroke="#231815" stroke-width="0.25" >0.25</text>
<line x1="354.1" y1="129.9" x2="354.1" y2="126.9" stroke="#231815" stroke-width="1.2"/>
<text x="354.1" y="139.5" font-size="12" fill="#231815" text-anchor="middle" font-weight="normal" stroke="#231815" stroke-width="0.25" >400</text>
<line x1="398.4" y1="129.9" x2="398.4" y2="126.9" stroke="#231815" stroke-width="1.2"/>
<text x="398.4" y="139.5" font-size="12" fill="#231815" text-anchor="middle" font-weight="normal" stroke="#231815" stroke-width="0.25" >450</text>
<line x1="442.6" y1="129.9" x2="442.6" y2="126.9" stroke="#231815" stroke-width="1.2"/>
<text x="442.6" y="139.5" font-size="12" fill="#231815" text-anchor="middle" font-weight="normal" stroke="#231815" stroke-width="0.25" >500</text>
<line x1="376.3" y1="129.9" x2="376.3" y2="127.9" stroke="#231815" stroke-width="1.1"/>
<line x1="420.6" y1="129.9" x2="420.6" y2="127.9" stroke="#231815" stroke-width="1.1"/>
<line x1="464.9" y1="129.9" x2="464.9" y2="127.9" stroke="#231815" stroke-width="1.1"/>
<text x="401" y="151.3" font-size="11.7" fill="#231815" text-anchor="middle" font-weight="normal" stroke="#231815" stroke-width="0.25" >Residue index</text>
<text transform="translate(305.3,70) rotate(-90)" font-size="11.5" fill="#231815" stroke="#231815" stroke-width="0.25" text-anchor="middle">RMSF (nm)</text>
<text x="442.9" y="27.8" font-size="12.8" fill="#d62a2a" text-anchor="start" font-weight="normal" stroke="#d62a2a" stroke-width="0.25" >US</text>
<text x="442.9" y="44" font-size="12.8" fill="#2473b5" text-anchor="start" font-weight="normal" stroke="#2473b5" stroke-width="0.25" >BS</text>
<text transform="translate(276.8,22) scale(1.1,1)" font-size="32.5" fill="#231815">B</text>
<rect x="546.3" y="47.2" width="56.2" height="83.39999999999999" fill="#d32a2a" stroke="#2a1a1a" stroke-width="1"/>
<rect x="616" y="43.2" width="56" height="87.39999999999999" fill="#2e9b3c" stroke="#2a1a1a" stroke-width="1"/>
<rect x="616" y="17.5" width="56" height="25.7" fill="#8b64a9" stroke="#2a1a1a" stroke-width="1"/>
<line x1="574.4" y1="41.5" x2="574.4" y2="55" stroke="#1a1a1a" stroke-width="1"/><line x1="572.9" y1="41.5" x2="575.9" y2="41.5" stroke="#1a1a1a" stroke-width="1"/>
<circle cx="574.4" cy="36.3" r="1.6" fill="#c02020" stroke="#401010" stroke-width="0.4"/>
<circle cx="574.4" cy="50.5" r="1.4" fill="none" stroke="#1a1a1a" stroke-width="0.6"/>
<circle cx="574.4" cy="52.7" r="1.4" fill="none" stroke="#1a1a1a" stroke-width="0.6"/>
<circle cx="574.4" cy="55.3" r="1.4" fill="none" stroke="#1a1a1a" stroke-width="0.6"/>
<line x1="644" y1="11.5" x2="644" y2="27" stroke="#1a1a1a" stroke-width="1"/>
<line x1="644" y1="33.1" x2="644" y2="55.5" stroke="#1a1a1a" stroke-width="1"/><line x1="642.5" y1="33.1" x2="645.5" y2="33.1" stroke="#1a1a1a" stroke-width="1"/>
<circle cx="644" cy="12.8" r="1.6" fill="#8050a8" stroke="#301040" stroke-width="0.4"/>
<circle cx="644" cy="16.8" r="1.4" fill="none" stroke="#1a1a1a" stroke-width="0.6"/>
<circle cx="644" cy="20.3" r="1.4" fill="none" stroke="#1a1a1a" stroke-width="0.6"/>
<circle cx="644" cy="23.6" r="1.5" fill="#30a040"/>
<circle cx="644" cy="51.5" r="1.4" fill="none" stroke="#1a1a1a" stroke-width="0.6"/>
<circle cx="644" cy="55.3" r="1.4" fill="none" stroke="#1a1a1a" stroke-width="0.6"/>
<text x="644.2" y="31.2" font-size="8.8" fill="#fff" text-anchor="middle" font-weight="bold" stroke="#fff" stroke-width="0.25" textLength="16.8" lengthAdjust="spacingAndGlyphs">DNA</text>
<text x="574.4" y="91.4" font-size="9.5" fill="#fff" text-anchor="middle" font-weight="bold" stroke="#fff" stroke-width="0.25" textLength="35.3" lengthAdjust="spacingAndGlyphs">PROTEIN</text>
<text x="644.4" y="89.4" font-size="9.5" fill="#fff" text-anchor="middle" font-weight="bold" stroke="#fff" stroke-width="0.25" textLength="35.1" lengthAdjust="spacingAndGlyphs">PROTEIN</text>
<rect x="540.1" y="8.5" width="138.19999999999993" height="122.1" fill="none" stroke="#231815" stroke-width="1.3"/>
<line x1="540.1" y1="130.6" x2="543.1" y2="130.6" stroke="#231815" stroke-width="1.2"/>
<text x="539.8" y="135.29999999999998" font-size="12" fill="#231815" text-anchor="end" font-weight="normal" stroke="#231815" stroke-width="0.25" >0</text>
<line x1="540.1" y1="89.89999999999999" x2="543.1" y2="89.89999999999999" stroke="#231815" stroke-width="1.2"/>
<text x="539.8" y="94.6" font-size="12" fill="#231815" text-anchor="end" font-weight="normal" stroke="#231815" stroke-width="0.25" >5</text>
<line x1="540.1" y1="49.19999999999999" x2="543.1" y2="49.19999999999999" stroke="#231815" stroke-width="1.2"/>
<text x="539.8" y="53.89999999999999" font-size="12" fill="#231815" text-anchor="end" font-weight="normal" stroke="#231815" stroke-width="0.25" >10</text>
<line x1="540.1" y1="8.5" x2="543.1" y2="8.5" stroke="#231815" stroke-width="1.2"/>
<text x="539.8" y="13.2" font-size="12" fill="#231815" text-anchor="end" font-weight="normal" stroke="#231815" stroke-width="0.25" >15</text>
<line x1="574.4" y1="130.6" x2="574.4" y2="127.6" stroke="#231815" stroke-width="1.2"/>
<line x1="644" y1="130.6" x2="644" y2="127.6" stroke="#231815" stroke-width="1.2"/>
<text x="574.3" y="140.5" font-size="12.5" fill="#231815" text-anchor="middle" font-weight="normal" stroke="#231815" stroke-width="0.25" >US</text>
<text x="644.1" y="140.5" font-size="12.5" fill="#231815" text-anchor="middle" font-weight="normal" stroke="#231815" stroke-width="0.25" >BS</text>
<text transform="translate(522.2,0) rotate(-90)" x="-131.3" y="0" font-size="12.1" fill="#231815" stroke="#231815" stroke-width="0.25" textLength="82.0" lengthAdjust="spacingAndGlyphs">Contact number</text>
<text transform="translate(522.2,0) rotate(-90)" x="-47.9" y="0" font-size="12.1" fill="#231815" stroke="#231815" stroke-width="0.25">(</text>
<text transform="translate(522.2,0) rotate(-90)" x="-41.0" y="0" font-size="12.3" fill="#231815" stroke="#231815" stroke-width="0.25" textLength="7.4" lengthAdjust="spacingAndGlyphs">×</text>
<text transform="translate(522.2,0) rotate(-90)" x="-32.0" y="0" font-size="12.1" fill="#231815" stroke="#231815" stroke-width="0.25" textLength="13.5" lengthAdjust="spacingAndGlyphs">10</text>
<text transform="translate(516.4,0) rotate(-90)" x="-18.2" y="0" font-size="8.6" fill="#231815" stroke="#231815" stroke-width="0.25">3</text>
<text transform="translate(522.2,0) rotate(-90)" x="-11.8" y="0" font-size="12.1" fill="#231815" stroke="#231815" stroke-width="0.25">)</text>
<text x="484.3" y="22.1" font-size="32.5" fill="#231815" text-anchor="start" font-weight="normal" >C</text>
<polygon points="350.2,278.7 353.2,276.9 355.9,251.9 358.6,264.4 360.9,261.0 363.9,240.5 367.3,238.2 369.5,234.8 371.8,224.6 375.2,225.7 377.5,220.0 380.2,227.0 382.5,218.0 385.5,223.5 387.7,217.9 390.8,224.0 394.3,216.0 396.5,209.1 398.8,202.8 401.4,185.2 405.0,205.0 408.4,217.0 411.6,229.7 414.8,242.3 417.9,238.1 421.5,239.9 424.3,249.0 426.4,252.2 429.6,254.3 432.1,242.7 433.8,247.9 435.9,246.9 438.0,252.2 441.2,257.5 444.3,247.9 446.9,247.9 449.6,251.1 452.8,252.2 456.0,251.1 459.1,245.8 461.7,258.5 461.7,267.5 459.1,254.8 456.0,260.1 452.8,261.2 449.6,260.1 446.9,256.9 444.3,256.9 441.2,266.5 438.0,261.2 435.9,255.9 433.8,256.9 432.1,251.7 429.6,263.3 426.4,261.2 424.3,258.0 421.5,248.9 417.9,254.1 414.8,258.3 411.6,245.7 408.4,233.0 405.0,221.0 401.4,211.2 398.8,228.8 396.5,218.1 394.3,225.0 390.8,233.0 387.7,226.9 385.5,232.5 382.5,227.0 380.2,236.0 377.5,229.0 375.2,234.7 371.8,233.6 369.5,243.8 367.3,247.2 363.9,249.5 360.9,270.0 358.6,273.4 355.9,260.9 353.2,285.9 350.2,287.7" fill="#c6dcee" fill-opacity="0.75"/>
<polygon points="350.2,278.6 353.2,282.0 356.4,267.3 359.3,266.1 361.6,266.1 363.9,229.8 366.1,238.9 369.5,237.7 373.0,236.6 375.2,242.3 377.5,224.1 380.5,228.2 384.5,229.2 389.5,231.5 392.2,223.0 394.8,224.8 396.5,215.4 399.4,211.0 399.9,194.5 404.0,208.0 408.4,220.0 411.6,233.5 414.8,246.4 417.9,251.7 421.1,254.8 423.2,260.1 425.3,264.3 427.4,261.2 429.6,263.3 432.1,258.0 433.8,263.3 437.0,262.2 440.1,260.1 442.2,263.3 444.3,266.5 446.5,260.1 448.6,265.4 451.7,259.1 454.5,262.2 457.0,267.5 459.5,262.2 461.7,263.3 461.7,273.3 459.5,272.2 457.0,277.5 454.5,272.2 451.7,269.1 448.6,275.4 446.5,270.1 444.3,276.5 442.2,273.3 440.1,270.1 437.0,272.2 433.8,273.3 432.1,268.0 429.6,273.3 427.4,271.2 425.3,274.3 423.2,270.1 421.1,264.8 417.9,261.7 414.8,256.4 411.6,243.5 408.4,230.0 404.0,218.0 399.9,208.5 399.4,225.0 396.5,229.4 394.8,236.8 392.2,235.0 389.5,243.5 384.5,241.2 380.5,240.2 377.5,234.1 375.2,252.3 373.0,246.6 369.5,247.7 366.1,248.9 363.9,239.8 361.6,276.1 359.3,276.1 356.4,277.3 353.2,292.0 350.2,288.6" fill="#f2c4c4" fill-opacity="0.7"/>
<polyline points="350.2,283.6 353.2,287.0 356.4,272.3 359.3,271.1 361.6,271.1 363.9,234.8 366.1,243.9 369.5,242.7 373.0,241.6 375.2,247.3 377.5,229.1 380.5,234.2 384.5,235.2 389.5,237.5 392.2,229.0 394.8,230.8 396.5,222.4 399.4,218.0 399.9,201.5 404.0,213.0 408.4,225.0 411.6,238.5 414.8,251.4 417.9,256.7 421.1,259.8 423.2,265.1 425.3,269.3 427.4,266.2 429.6,268.3 432.1,263.0 433.8,268.3 437.0,267.2 440.1,265.1 442.2,268.3 444.3,271.5 446.5,265.1 448.6,270.4 451.7,264.1 454.5,267.2 457.0,272.5 459.5,267.2 461.7,268.3" fill="none" stroke="#d62a2a" stroke-width="1.8" stroke-linejoin="round"/>
<polyline points="350.2,283.2 353.2,281.4 355.9,256.4 358.6,268.9 360.9,265.5 363.9,245.0 367.3,242.7 369.5,239.3 371.8,229.1 375.2,230.2 377.5,224.5 380.2,231.5 382.5,222.5 385.5,228.0 387.7,222.4 390.8,228.5 394.3,220.5 396.5,213.6 398.8,215.8 401.4,198.2 405.0,213.0 408.4,225.0 411.6,237.7 414.8,250.3 417.9,246.1 421.5,244.4 424.3,253.5 426.4,256.7 429.6,258.8 432.1,247.2 433.8,252.4 435.9,251.4 438.0,256.7 441.2,262.0 444.3,252.4 446.9,252.4 449.6,255.6 452.8,256.7 456.0,255.6 459.1,250.3 461.7,263.0" fill="none" stroke="#2473b5" stroke-width="1.8" stroke-linejoin="round"/>
<rect x="332.6" y="170.8" width="138.2" height="121.80000000000001" fill="none" stroke="#231815" stroke-width="1.3"/>
<line x1="332.6" y1="170.8" x2="335.6" y2="170.8" stroke="#231815" stroke-width="1.2"/>
<text x="331.8" y="175.3" font-size="12" fill="#231815" text-anchor="end" font-weight="normal" stroke="#231815" stroke-width="0.25" >600</text>
<line x1="332.6" y1="208.2" x2="335.6" y2="208.2" stroke="#231815" stroke-width="1.2"/>
<text x="331.8" y="212.7" font-size="12" fill="#231815" text-anchor="end" font-weight="normal" stroke="#231815" stroke-width="0.25" >400</text>
<line x1="332.6" y1="245.8" x2="335.6" y2="245.8" stroke="#231815" stroke-width="1.2"/>
<text x="331.8" y="250.3" font-size="12" fill="#231815" text-anchor="end" font-weight="normal" stroke="#231815" stroke-width="0.25" >200</text>
<line x1="332.6" y1="283.5" x2="335.6" y2="283.5" stroke="#231815" stroke-width="1.2"/>
<text x="331.8" y="288.0" font-size="12" fill="#231815" text-anchor="end" font-weight="normal" stroke="#231815" stroke-width="0.25" >0</text>
<line x1="332.6" y1="292.6" x2="332.6" y2="289.6" stroke="#231815" stroke-width="1.2"/>
<text x="332.6" y="302.1" font-size="12" fill="#231815" text-anchor="middle" font-weight="normal" stroke="#231815" stroke-width="0.25" >0</text>
<line x1="378.7" y1="292.6" x2="378.7" y2="289.6" stroke="#231815" stroke-width="1.2"/>
<text x="378.7" y="302.1" font-size="12" fill="#231815" text-anchor="middle" font-weight="normal" stroke="#231815" stroke-width="0.25" >5</text>
<line x1="424.8" y1="292.6" x2="424.8" y2="289.6" stroke="#231815" stroke-width="1.2"/>
<text x="424.8" y="302.1" font-size="12" fill="#231815" text-anchor="middle" font-weight="normal" stroke="#231815" stroke-width="0.25" >10</text>
<line x1="470.8" y1="292.6" x2="470.8" y2="289.6" stroke="#231815" stroke-width="1.2"/>
<text x="470.8" y="302.1" font-size="12" fill="#231815" text-anchor="middle" font-weight="normal" stroke="#231815" stroke-width="0.25" >15</text>
<text x="401.5" y="313.5" font-size="11.8" fill="#231815" text-anchor="middle" font-weight="normal" stroke="#231815" stroke-width="0.25" >Distance (nm)</text>
<text transform="translate(308.8,230.7) rotate(-90)" font-size="11.5" fill="#231815" stroke="#231815" stroke-width="0.25" text-anchor="middle">Force (kJ/mol/nm)</text>
<text x="443.5" y="190.6" font-size="12.8" fill="#d62a2a" text-anchor="start" font-weight="normal" stroke="#d62a2a" stroke-width="0.25" >US</text>
<text x="443.2" y="206.8" font-size="12.8" fill="#2473b5" text-anchor="start" font-weight="normal" stroke="#2473b5" stroke-width="0.25" >BS</text>
<text x="275.4" y="180.1" font-size="32.5" fill="#231815" text-anchor="start" font-weight="normal" >D</text>
<rect x="639.6" y="171.3" width="29.4" height="121.09999999999997" fill="#f7cfae"/>
<polygon points="550.8,180.9 553.0,190.8 555.2,195.2 557.5,194.1 559.1,194.5 560.8,196.3 562.5,197.5 564.1,197.4 566.3,199.0 568.5,199.6 570.7,200.1 572.9,201.4 575.1,202.1 577.3,202.9 579.5,203.9 581.7,205.1 584.0,207.6 586.2,209.6 588.4,211.8 590.6,212.9 592.8,213.8 595.0,216.2 597.2,217.6 599.4,220.6 601.0,223.4 602.7,225.0 604.4,227.6 606.0,230.5 607.9,233.4 609.7,235.4 612.1,235.7 614.5,237.8 616.9,238.3 619.2,239.0 621.5,240.0 623.9,240.2 626.3,239.0 628.6,240.9 631.0,243.7 633.4,245.1 635.8,244.9 638.1,246.8 640.5,247.3 642.9,249.6 645.2,254.4 647.6,255.5 649.4,255.3 651.2,256.7 653.0,256.4 654.7,257.9 656.5,259.2 658.3,260.3 660.0,262.3 661.8,262.7 663.6,263.6 665.4,265.0 667.7,262.7 669.4,262.2 669.4,269.2 667.7,269.7 665.4,272.0 663.6,270.6 661.8,269.7 660.0,269.3 658.3,267.3 656.5,266.2 654.7,264.9 653.0,263.4 651.2,263.7 649.4,262.3 647.6,262.5 645.2,261.4 642.9,256.6 640.5,254.3 638.1,253.8 635.8,251.9 633.4,252.1 631.0,250.7 628.6,247.9 626.3,246.0 623.9,247.2 621.5,247.0 619.2,246.0 616.9,245.3 614.5,244.8 612.1,242.7 609.7,242.4 607.9,240.4 606.0,237.5 604.4,234.6 602.7,232.0 601.0,230.4 599.4,227.6 597.2,224.6 595.0,223.2 592.8,220.8 590.6,219.9 588.4,218.8 586.2,216.6 584.0,214.6 581.7,212.1 579.5,210.9 577.3,209.9 575.1,209.1 572.9,208.4 570.7,207.1 568.5,206.6 566.3,206.0 564.1,204.4 562.5,204.5 560.8,203.3 559.1,201.5 557.5,201.1 555.2,202.2 553.0,197.8 550.8,187.9" fill="#c6dcee" fill-opacity="0.7"/>
<polygon points="550.8,197.7 553.0,209.9 554.7,210.5 556.4,212.1 558.0,211.6 559.7,211.0 561.9,211.9 564.1,213.2 566.3,213.9 568.5,214.3 570.7,215.6 572.9,216.5 575.1,216.8 577.3,218.7 579.5,219.5 581.7,222.0 584.0,224.8 586.2,226.4 588.4,227.6 590.6,229.7 592.8,230.8 595.0,232.8 597.2,237.3 599.4,240.9 601.6,242.8 603.3,244.5 605.0,246.4 606.8,249.4 608.6,251.1 610.6,251.9 612.5,253.0 614.5,253.5 616.9,254.0 619.2,255.8 621.0,255.5 622.8,254.7 624.5,255.1 626.3,254.2 628.6,256.2 631.0,258.2 633.4,260.4 635.8,261.8 638.1,261.5 640.5,260.6 642.9,260.4 645.2,261.8 647.6,262.9 650.0,263.0 652.4,263.7 654.7,264.1 656.7,264.1 658.6,264.1 660.6,265.3 663.0,266.8 665.4,267.0 667.4,266.1 669.4,265.3 669.4,271.7 667.4,272.5 665.4,273.4 663.0,273.2 660.6,271.7 658.6,270.5 656.7,270.5 654.7,270.5 652.4,270.1 650.0,269.4 647.6,269.3 645.2,268.2 642.9,266.8 640.5,267.0 638.1,267.9 635.8,268.2 633.4,266.8 631.0,264.6 628.6,262.6 626.3,260.6 624.5,261.5 622.8,261.1 621.0,261.9 619.2,262.2 616.9,260.4 614.5,259.9 612.5,259.4 610.6,258.3 608.6,257.5 606.8,255.8 605.0,252.8 603.3,250.9 601.6,249.2 599.4,247.3 597.2,243.7 595.0,239.2 592.8,237.2 590.6,236.1 588.4,234.0 586.2,232.8 584.0,231.2 581.7,228.4 579.5,225.9 577.3,225.1 575.1,223.2 572.9,222.9 570.7,222.0 568.5,220.7 566.3,220.3 564.1,219.6 561.9,218.3 559.7,217.4 558.0,218.0 556.4,218.5 554.7,216.9 553.0,216.3 550.8,204.1" fill="#c8e6c0" fill-opacity="0.7"/>
<polygon points="549.7,201.7 551.4,205.8 553.0,208.3 554.7,209.7 556.4,209.5 558.0,209.3 559.7,210.6 561.9,211.0 564.1,212.8 566.3,214.0 568.5,213.9 570.7,214.9 572.9,215.0 575.1,216.4 577.3,217.2 579.5,218.0 581.7,219.4 584.0,220.7 586.2,221.6 588.4,222.9 590.6,223.8 592.8,225.0 595.0,226.0 596.6,228.1 598.3,231.5 600.0,234.4 601.6,237.5 603.3,239.2 605.0,241.2 607.4,242.8 609.7,243.5 612.1,247.4 614.5,249.5 616.2,252.1 618.0,253.0 620.4,258.9 622.1,259.3 623.9,259.6 625.5,260.1 627.1,260.3 628.7,261.3 630.7,261.0 632.6,261.5 634.6,262.9 637.0,262.0 639.3,261.3 641.3,261.0 643.2,261.1 645.2,261.3 647.2,262.2 649.2,261.8 651.2,262.0 653.0,261.4 654.7,260.6 656.5,260.1 658.2,259.7 660.0,260.3 661.8,260.6 664.1,259.7 666.5,260.1 669.4,260.1 669.4,265.1 666.5,265.1 664.1,264.7 661.8,265.6 660.0,265.3 658.2,264.7 656.5,265.1 654.7,265.6 653.0,266.4 651.2,267.0 649.2,266.8 647.2,267.2 645.2,266.3 643.2,266.1 641.3,266.0 639.3,266.3 637.0,267.0 634.6,267.9 632.6,266.5 630.7,266.0 628.7,266.3 627.1,265.3 625.5,265.1 623.9,264.6 622.1,264.3 620.4,263.9 618.0,258.0 616.2,257.1 614.5,254.5 612.1,252.4 609.7,248.5 607.4,247.8 605.0,246.2 603.3,244.2 601.6,242.5 600.0,239.4 598.3,236.5 596.6,233.1 595.0,231.0 592.8,230.0 590.6,228.8 588.4,227.9 586.2,226.6 584.0,225.7 581.7,224.4 579.5,223.0 577.3,222.2 575.1,221.4 572.9,220.0 570.7,219.9 568.5,218.9 566.3,219.0 564.1,217.8 561.9,216.0 559.7,215.6 558.0,214.3 556.4,214.5 554.7,214.7 553.0,213.3 551.4,210.8 549.7,206.7" fill="#f2c4c4" fill-opacity="0.6"/>
<polygon points="550.8,274.9 553.0,275.1 555.2,275.8 557.5,276.0 559.7,276.9 561.9,277.1 564.1,277.6 566.3,276.9 568.5,276.9 570.1,276.4 571.8,276.6 573.5,277.0 575.1,276.5 576.8,276.6 578.4,276.3 580.1,275.5 581.7,275.6 584.0,275.3 586.2,274.9 587.9,274.8 589.5,274.8 591.1,274.9 592.8,275.4 594.6,274.7 596.5,275.1 598.3,274.3 600.1,274.9 602.0,275.2 603.8,275.2 605.5,275.4 607.1,274.7 608.8,274.6 610.4,274.8 612.1,274.6 613.9,274.7 615.7,274.7 617.4,274.6 619.2,274.1 621.1,273.9 623.0,274.7 624.9,275.0 626.8,275.1 628.7,275.3 630.5,275.1 632.2,275.5 634.0,275.3 635.8,275.8 637.5,276.6 639.3,276.5 640.9,278.2 642.5,279.2 644.1,280.5 646.5,281.9 648.8,283.6 650.8,284.8 652.7,285.3 654.7,286.0 656.5,286.8 658.2,287.1 660.0,287.2 661.8,287.6 663.7,287.9 665.6,288.4 667.5,288.6 669.4,289.0 669.4,292.0 667.5,291.6 665.6,291.4 663.7,290.9 661.8,290.6 660.0,290.2 658.2,290.1 656.5,289.8 654.7,289.0 652.7,288.3 650.8,287.8 648.8,286.6 646.5,284.9 644.1,283.5 642.5,282.2 640.9,281.2 639.3,279.5 637.5,279.6 635.8,278.8 634.0,278.3 632.2,278.5 630.5,278.1 628.7,278.3 626.8,278.1 624.9,278.0 623.0,277.7 621.1,276.9 619.2,277.1 617.4,277.6 615.7,277.7 613.9,277.7 612.1,277.6 610.4,277.8 608.8,277.6 607.1,277.7 605.5,278.4 603.8,278.2 602.0,278.2 600.1,277.9 598.3,277.3 596.5,278.1 594.6,277.7 592.8,278.4 591.1,277.9 589.5,277.8 587.9,277.8 586.2,277.9 584.0,278.3 581.7,278.6 580.1,278.5 578.4,279.3 576.8,279.6 575.1,279.5 573.5,280.0 571.8,279.6 570.1,279.4 568.5,279.9 566.3,279.9 564.1,280.6 561.9,280.1 559.7,279.9 557.5,279.0 555.2,278.8 553.0,278.1 550.8,277.9" fill="#dccfe8" fill-opacity="0.7"/>
<polyline points="550.8,276.4 553.0,276.6 555.2,277.3 557.5,277.5 559.7,278.4 561.9,278.6 564.1,279.1 566.3,278.4 568.5,278.4 570.1,277.9 571.8,278.1 573.5,278.5 575.1,278.0 576.8,278.1 578.4,277.8 580.1,277.0 581.7,277.1 584.0,276.8 586.2,276.4 587.9,276.3 589.5,276.3 591.1,276.4 592.8,276.9 594.6,276.2 596.5,276.6 598.3,275.8 600.1,276.4 602.0,276.7 603.8,276.7 605.5,276.9 607.1,276.2 608.8,276.1 610.4,276.3 612.1,276.1 613.9,276.2 615.7,276.2 617.4,276.1 619.2,275.6 621.1,275.4 623.0,276.2 624.9,276.5 626.8,276.6 628.7,276.8 630.5,276.6 632.2,277.0 634.0,276.8 635.8,277.3 637.5,278.1 639.3,278.0 640.9,279.7 642.5,280.7 644.1,282.0 646.5,283.4 648.8,285.1 650.8,286.3 652.7,286.8 654.7,287.5 656.5,288.3 658.2,288.6 660.0,288.7 661.8,289.1 663.7,289.4 665.6,289.9 667.5,290.1 669.4,290.5" fill="none" stroke="#9068b4" stroke-width="1.7" stroke-linejoin="round"/>
<polyline points="550.8,200.9 553.0,213.1 554.7,213.7 556.4,215.3 558.0,214.8 559.7,214.2 561.9,215.1 564.1,216.4 566.3,217.1 568.5,217.5 570.7,218.8 572.9,219.7 575.1,220.0 577.3,221.9 579.5,222.7 581.7,225.2 584.0,228.0 586.2,229.6 588.4,230.8 590.6,232.9 592.8,234.0 595.0,236.0 597.2,240.5 599.4,244.1 601.6,246.0 603.3,247.7 605.0,249.6 606.8,252.6 608.6,254.3 610.6,255.1 612.5,256.2 614.5,256.7 616.9,257.2 619.2,259.0 621.0,258.7 622.8,257.9 624.5,258.3 626.3,257.4 628.6,259.4 631.0,261.4 633.4,263.6 635.8,265.0 638.1,264.7 640.5,263.8 642.9,263.6 645.2,265.0 647.6,266.1 650.0,266.2 652.4,266.9 654.7,267.3 656.7,267.3 658.6,267.3 660.6,268.5 663.0,270.0 665.4,270.2 667.4,269.3 669.4,268.5" fill="none" stroke="#2e9b3c" stroke-width="1.7" stroke-linejoin="round"/>
<polyline points="549.7,204.2 551.4,208.3 553.0,210.8 554.7,212.2 556.4,212.0 558.0,211.8 559.7,213.1 561.9,213.5 564.1,215.3 566.3,216.5 568.5,216.4 570.7,217.4 572.9,217.5 575.1,218.9 577.3,219.7 579.5,220.5 581.7,221.9 584.0,223.2 586.2,224.1 588.4,225.4 590.6,226.3 592.8,227.5 595.0,228.5 596.6,230.6 598.3,234.0 600.0,236.9 601.6,240.0 603.3,241.7 605.0,243.7 607.4,245.3 609.7,246.0 612.1,249.9 614.5,252.0 616.2,254.6 618.0,255.5 620.4,261.4 622.1,261.8 623.9,262.1 625.5,262.6 627.1,262.8 628.7,263.8 630.7,263.5 632.6,264.0 634.6,265.4 637.0,264.5 639.3,263.8 641.3,263.5 643.2,263.6 645.2,263.8 647.2,264.7 649.2,264.3 651.2,264.5 653.0,263.9 654.7,263.1 656.5,262.6 658.2,262.2 660.0,262.8 661.8,263.1 664.1,262.2 666.5,262.6 669.4,262.6" fill="none" stroke="#d62a2a" stroke-width="1.7" stroke-linejoin="round"/>
<polyline points="550.8,184.4 553.0,194.3 555.2,198.7 557.5,197.6 559.1,198.0 560.8,199.8 562.5,201.0 564.1,200.9 566.3,202.5 568.5,203.1 570.7,203.6 572.9,204.9 575.1,205.6 577.3,206.4 579.5,207.4 581.7,208.6 584.0,211.1 586.2,213.1 588.4,215.3 590.6,216.4 592.8,217.3 595.0,219.7 597.2,221.1 599.4,224.1 601.0,226.9 602.7,228.5 604.4,231.1 606.0,234.0 607.9,236.9 609.7,238.9 612.1,239.2 614.5,241.3 616.9,241.8 619.2,242.5 621.5,243.5 623.9,243.7 626.3,242.5 628.6,244.4 631.0,247.2 633.4,248.6 635.8,248.4 638.1,250.3 640.5,250.8 642.9,253.1 645.2,257.9 647.6,259.0 649.4,258.8 651.2,260.2 653.0,259.9 654.7,261.4 656.5,262.7 658.3,263.8 660.0,265.8 661.8,266.2 663.6,267.1 665.4,268.5 667.7,266.2 669.4,265.7" fill="none" stroke="#2473b5" stroke-width="1.7" stroke-linejoin="round"/>
<rect x="541.6" y="171.3" width="137.19999999999993" height="121.09999999999997" fill="none" stroke="#231815" stroke-width="1.3"/>
<line x1="541.6" y1="292.4" x2="544.6" y2="292.4" stroke="#231815" stroke-width="1.2"/>
<text x="540.3" y="296.7" font-size="12" fill="#231815" text-anchor="end" font-weight="normal" stroke="#231815" stroke-width="0.25" >0</text>
<line x1="541.6" y1="266.5" x2="544.6" y2="266.5" stroke="#231815" stroke-width="1.2"/>
<text x="540.3" y="270.8" font-size="12" fill="#231815" text-anchor="end" font-weight="normal" stroke="#231815" stroke-width="0.25" >3</text>
<line x1="541.6" y1="240.6" x2="544.6" y2="240.6" stroke="#231815" stroke-width="1.2"/>
<text x="540.3" y="244.9" font-size="12" fill="#231815" text-anchor="end" font-weight="normal" stroke="#231815" stroke-width="0.25" >6</text>
<line x1="541.6" y1="214.7" x2="544.6" y2="214.7" stroke="#231815" stroke-width="1.2"/>
<text x="540.3" y="219.0" font-size="12" fill="#231815" text-anchor="end" font-weight="normal" stroke="#231815" stroke-width="0.25" >9</text>
<line x1="541.6" y1="188.8" x2="544.6" y2="188.8" stroke="#231815" stroke-width="1.2"/>
<text x="540.3" y="193.1" font-size="12" fill="#231815" text-anchor="end" font-weight="normal" stroke="#231815" stroke-width="0.25" >12</text>
<line x1="560.6" y1="292.4" x2="560.6" y2="289.4" stroke="#231815" stroke-width="1.2"/>
<text x="560.6" y="302.5" font-size="12" fill="#231815" text-anchor="middle" font-weight="normal" stroke="#231815" stroke-width="0.25" >3</text>
<line x1="590.1" y1="292.4" x2="590.1" y2="289.4" stroke="#231815" stroke-width="1.2"/>
<text x="590.1" y="302.5" font-size="12" fill="#231815" text-anchor="middle" font-weight="normal" stroke="#231815" stroke-width="0.25" >6</text>
<line x1="619.7" y1="292.4" x2="619.7" y2="289.4" stroke="#231815" stroke-width="1.2"/>
<text x="619.7" y="302.5" font-size="12" fill="#231815" text-anchor="middle" font-weight="normal" stroke="#231815" stroke-width="0.25" >9</text>
<line x1="649.2" y1="292.4" x2="649.2" y2="289.4" stroke="#231815" stroke-width="1.2"/>
<text x="649.2" y="302.5" font-size="12" fill="#231815" text-anchor="middle" font-weight="normal" stroke="#231815" stroke-width="0.25" >12</text>
<line x1="678.8" y1="292.4" x2="678.8" y2="289.4" stroke="#231815" stroke-width="1.2"/>
<text x="678.8" y="302.5" font-size="12" fill="#231815" text-anchor="middle" font-weight="normal" stroke="#231815" stroke-width="0.25" >15</text>
<text x="610" y="313.5" font-size="11.8" fill="#231815" text-anchor="middle" font-weight="normal" stroke="#231815" stroke-width="0.25" >Distance (nm)</text>
<text transform="translate(522.2,0) rotate(-90)" x="-294.9" y="0" font-size="12.1" fill="#231815" stroke="#231815" stroke-width="0.25" textLength="82.0" lengthAdjust="spacingAndGlyphs">Contact number</text>
<text transform="translate(522.2,0) rotate(-90)" x="-211.5" y="0" font-size="12.1" fill="#231815" stroke="#231815" stroke-width="0.25">(</text>
<text transform="translate(522.2,0) rotate(-90)" x="-204.6" y="0" font-size="12.3" fill="#231815" stroke="#231815" stroke-width="0.25" textLength="7.4" lengthAdjust="spacingAndGlyphs">×</text>
<text transform="translate(522.2,0) rotate(-90)" x="-195.6" y="0" font-size="12.1" fill="#231815" stroke="#231815" stroke-width="0.25" textLength="13.5" lengthAdjust="spacingAndGlyphs">10</text>
<text transform="translate(516.4,0) rotate(-90)" x="-181.8" y="0" font-size="8.6" fill="#231815" stroke="#231815" stroke-width="0.25">3</text>
<text transform="translate(522.2,0) rotate(-90)" x="-175.4" y="0" font-size="12.1" fill="#231815" stroke="#231815" stroke-width="0.25">)</text>
<text x="607.6" y="183.7" font-size="12.2" fill="#d62a2a" text-anchor="start" font-weight="normal" stroke="#d62a2a" stroke-width="0.25" >US</text>
<text x="607" y="199.5" font-size="12.6" fill="#2473b5" text-anchor="start" font-weight="normal" stroke="#2473b5" stroke-width="0.25" >BS (Total)</text>
<text x="607" y="215.9" font-size="12.6" fill="#2e9b3c" text-anchor="start" font-weight="normal" stroke="#2e9b3c" stroke-width="0.25" >BS (Protein)</text>
<text x="607" y="232.3" font-size="12.6" fill="#9068b4" text-anchor="start" font-weight="normal" stroke="#9068b4" stroke-width="0.25" >BS (DNA)</text>
<text x="481.7" y="180.1" font-size="32.5" fill="#231815" text-anchor="start" font-weight="normal" >E</text>
</svg></body></html>
